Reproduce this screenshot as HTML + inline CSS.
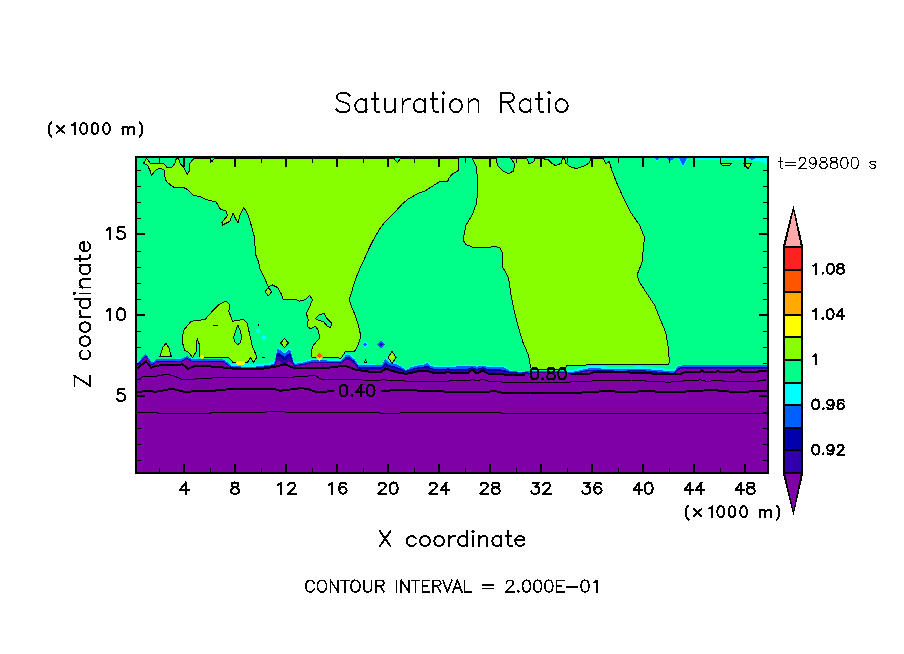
<!DOCTYPE html>
<html><head><meta charset="utf-8"><title>Saturation Ratio</title>
<style>
html,body{margin:0;padding:0;background:#fff;}
svg{display:block;font-family:"Liberation Sans",sans-serif;}
text{fill:#000;}
</style></head><body>
<svg width="904" height="654" viewBox="0 0 904 654">
<rect width="904" height="654" fill="#fff"/>
<g shape-rendering="crispEdges"><rect x="136" y="157" width="632" height="316" fill="#00ff88"/>
<polygon points="146.5,158.0 150.3,163.2 163.0,163.2 165.8,165.6 166.8,167.4 171.6,167.4 174.7,163.7 176.5,158.0 178.3,158.0 180.5,164.2 183.1,166.4 187.1,174.3 189.3,171.2 189.3,164.2 191.5,161.0 194.6,158.0 210.1,158.0 212.0,161.5 214.6,158.0 393.5,158.0 397.5,162.5 401.0,158.0 458.7,158.0 458.7,170.3 452.5,173.8 449.1,177.9 447.7,181.3 439.4,181.7 432.6,186.1 425.0,191.0 418.8,193.0 407.8,199.2 402.3,204.0 394.0,213.0 384.4,222.6 378.9,230.2 374.8,237.1 372.0,242.6 368.6,249.4 365.5,256.4 359.5,269.5 356.0,278.0 353.7,285.0 352.0,291.0 349.3,299.6 351.7,306.9 354.7,314.1 358.3,325.0 360.8,335.9 358.3,344.7 354.7,351.2 345.2,351.9 340.9,358.5 337.9,357.7 311.5,357.0 311.5,351.2 313.2,345.4 319.8,338.1 318.3,330.1 315.4,326.5 310.3,328.7 307.4,326.5 308.2,319.2 306.3,313.4 309.6,306.9 312.5,299.6 309.6,295.3 305.3,299.6 299.4,301.1 295.0,299.2 287.5,299.2 283.2,300.0 281.2,293.8 277.5,287.5 272.5,285.0 268.2,286.8 263.8,276.2 260.0,268.8 258.8,262.5 255.8,255.0 254.2,236.2 251.2,225.0 247.5,213.8 243.8,207.5 240.0,215.0 238.0,223.0 235.0,217.5 233.0,213.0 230.0,221.2 222.5,225.0 222.0,222.5 227.5,215.5 226.2,211.2 220.0,208.8 216.2,202.0 206.6,199.6 200.4,196.9 193.3,195.1 188.0,189.8 183.6,187.6 173.8,187.2 171.6,185.8 166.8,181.9 165.4,179.4 164.0,169.8 160.6,168.4 156.5,169.4 151.3,175.3 150.3,171.2 147.5,165.3 143.7,163.2" fill="#88ff00" stroke="#000" stroke-width="1" stroke-linejoin="round"/>
<polygon points="472.2,158.0 496.3,158.0 497.3,165.0 502.1,170.4 508.3,173.9 513.6,170.9 514.5,164.2 511.9,159.7 510.0,158.0 526.4,158.0 529.2,163.8 534.0,161.5 534.5,158.0 544.0,158.0 544.6,159.7 548.1,159.7 550.8,162.4 555.2,165.6 561.4,163.3 562.3,158.0 564.6,158.0 565.8,163.3 570.3,166.8 576.5,168.6 584.4,165.9 588.8,163.3 591.2,158.0 603.0,158.0 605.7,163.8 609.2,161.5 611.9,170.4 616.3,181.9 623.2,197.5 630.8,212.5 639.5,225.0 644.5,237.5 643.2,250.0 642.0,262.5 637.5,273.8 638.2,280.0 644.5,290.0 654.5,305.0 659.5,317.5 665.8,332.5 668.2,347.5 669.5,362.5 668.2,364.5 600.0,364.6 566.3,365.6 565.5,369.9 531.5,369.4 530.4,366.0 528.5,355.0 523.0,342.5 519.8,332.5 514.0,310.0 511.0,295.0 508.5,277.5 502.2,266.2 503.0,253.8 499.8,248.0 494.8,246.2 491.0,247.0 472.2,247.0 466.0,244.5 463.0,240.0 466.0,225.0 472.2,215.0 476.8,202.5 477.8,180.0 476.0,166.2" fill="#88ff00" stroke="#000" stroke-width="1" stroke-linejoin="round"/>
<polygon points="182.5,336.2 183.8,330.0 191.2,321.2 205.0,319.5 210.0,313.8 218.8,304.5 226.2,301.2 230.0,305.0 228.8,311.2 232.5,321.2 243.8,319.5 247.5,323.8 248.4,328.8 252.7,347.5 257.0,356.9 253.4,362.6 250.5,357.6 247.7,361.9 244.8,363.0 233.2,362.7 228.8,357.6 204.1,357.6 199.7,356.9 199.4,344.5 197.1,338.7 196.1,351.8 192.5,357.6 188.1,351.8 184.5,350.3 183.0,344.5" fill="#88ff00" stroke="#000" stroke-width="1" stroke-linejoin="round"/>
<polygon points="238.0,325.0 240.3,331.0 241.8,337.5 240.3,342.5 237.7,344.8 235.2,342.5 233.6,337.5 235.5,331.0" fill="#00ff88" stroke="#000" stroke-width="1" stroke-linejoin="round"/>
<polygon points="159.8,356.9 162.5,348.0 165.9,343.4 169.0,348.0 171.4,356.9" fill="#88ff00" stroke="#000" stroke-width="1" stroke-linejoin="round"/>
<polygon points="315.4,318.5 319.1,314.9 324.1,313.4 327.0,318.5 331.4,322.9 330.7,327.9 327.0,325.8 323.4,321.4 319.1,320.7" fill="#00ff88" stroke="#000" stroke-width="1" stroke-linejoin="round"/>
<polygon points="268.2,287.5 271.8,291.8 268.2,295.8 265.0,291.8" fill="#88ff00" stroke="#000" stroke-width="1" stroke-linejoin="round"/>
<polygon points="284.5,338.5 288.3,343.0 284.5,347.5 280.7,343.0" fill="#88ff00" stroke="#000" stroke-width="1" stroke-linejoin="round"/>
<line x1="212.5" y1="325" x2="217.5" y2="325" stroke="#000"/>
<rect x="258" y="324" width="1" height="2" fill="#000"/>
<polygon points="255.55,331.25 258.25,328.55 260.95,331.25 258.25,333.95" fill="#00ffff"/>
<polygon points="260.55,337.5 263.75,334.3 266.95,337.5 263.75,340.7" fill="#00ffff"/>
<polygon points="363.6,363.2 365.5,358.6 367.4,363.2" fill="#000"/>
<rect x="365" y="360.6" width="1" height="1.6" fill="#88ff00"/>
<line x1="262" y1="357.5" x2="264.5" y2="357.5" stroke="#000"/>
<polygon points="361.7,344.7 365.3,341.09999999999997 368.90000000000003,344.7 365.3,348.3" fill="#00ffff"/>
<polygon points="363.3,344.7 365.3,342.7 367.3,344.7 365.3,346.7" fill="#0060ff"/>
<polygon points="377.1,344.7 381.1,340.7 385.1,344.7 381.1,348.7" fill="#0060ff"/>
<polygon points="378.90000000000003,344.7 381.1,342.5 383.3,344.7 381.1,346.9" fill="#3000a8"/>
<polygon points="695,158 767,158 767,164 758,161 748,160 695,159.5" fill="#00ffff"/>
<polygon points="748,158 756,158 752,160" fill="#0060ff"/>
<polygon points="653,158 661,158 657.0,161.2" fill="#00ffff"/>
<polygon points="665.5,158 675.5,158 670.5,162" fill="#00ffff"/>
<polygon points="677.5,158 688.5,158 683.0,167" fill="#00ffff"/>
<polygon points="654,158 660,158 657.0,160.5" fill="#0060ff"/>
<polygon points="666.5,158 674.5,158 670.5,161.3" fill="#0060ff"/>
<polygon points="679,158 687,158 683.0,165.5" fill="#0060ff"/>
<polygon points="720.5,163.6 731.4,163.6 729,165.6 723,165.6" fill="#88ff00" stroke="#000" stroke-width="1" stroke-linejoin="round"/>
<polygon points="743.8,163.6 751.5,163.6 748,168.6" fill="#88ff00" stroke="#000" stroke-width="1" stroke-linejoin="round"/>
<polygon points="137.0,362.7 138.0,361.7 139.0,360.7 140.0,359.6 141.0,358.6 142.0,357.6 143.0,356.6 144.0,355.5 145.0,354.5 146.0,353.5 147.0,355.1 148.0,356.7 149.0,358.3 150.0,359.8 151.0,361.4 152.0,362.5 153.0,361.7 154.0,360.9 155.0,360.0 156.0,359.2 157.0,359.0 158.0,359.0 159.0,358.9 160.0,358.9 161.0,358.9 162.0,358.8 163.0,358.8 164.0,358.8 165.0,358.8 166.0,358.7 167.0,358.7 168.0,358.7 169.0,358.7 170.0,358.6 171.0,358.6 172.0,358.6 173.0,358.5 174.0,358.5 175.0,358.5 176.0,358.5 177.0,358.4 178.0,358.4 179.0,358.4 180.0,358.4 181.0,358.3 182.0,358.3 183.0,357.9 184.0,357.2 185.0,356.6 186.0,355.9 187.0,355.7 188.0,356.3 189.0,357.0 190.0,357.6 191.0,358.3 192.0,358.3 193.0,358.3 194.0,358.4 195.0,358.4 196.0,358.4 197.0,358.4 198.0,358.5 199.0,358.5 200.0,358.5 201.0,358.5 202.0,358.5 203.0,358.6 204.0,358.6 205.0,358.6 206.0,358.6 207.0,358.6 208.0,358.7 209.0,358.7 210.0,358.7 211.0,358.7 212.0,358.8 213.0,358.8 214.0,358.8 215.0,358.8 216.0,358.8 217.0,358.9 218.0,358.9 219.0,358.9 220.0,358.9 221.0,359.0 222.0,359.0 223.0,359.0 224.0,359.6 225.0,360.2 226.0,360.8 227.0,361.3 228.0,361.9 229.0,362.5 230.0,363.1 231.0,363.7 232.0,364.1 233.0,364.1 234.0,364.1 235.0,364.2 236.0,364.2 237.0,364.2 238.0,364.2 239.0,364.2 240.0,364.2 241.0,364.3 242.0,364.3 243.0,364.3 244.0,364.3 245.0,364.3 246.0,364.3 247.0,364.4 248.0,364.4 249.0,364.4 250.0,364.4 251.0,364.4 252.0,364.4 253.0,364.5 254.0,364.5 255.0,364.5 256.0,364.4 257.0,364.2 258.0,364.1 259.0,364.0 260.0,363.8 261.0,363.7 262.0,363.6 263.0,363.4 264.0,363.3 265.0,363.2 266.0,363.0 267.0,362.9 268.0,362.8 269.0,362.6 270.0,362.5 271.0,362.3 272.0,362.1 273.0,361.8 274.0,361.6 275.0,359.0 276.0,354.0 277.0,347.9 278.0,347.5 279.0,347.7 280.0,348.6 281.0,349.4 282.0,350.1 283.0,350.9 284.0,351.6 285.0,351.5 286.0,350.6 287.0,349.7 288.0,348.8 289.0,348.5 290.0,348.4 291.0,350.5 292.0,354.3 293.0,358.5 294.0,360.9 295.0,362.2 296.0,362.1 297.0,361.9 298.0,361.7 299.0,361.6 300.0,361.4 301.0,361.3 302.0,361.1 303.0,360.9 304.0,360.8 305.0,360.6 306.0,360.3 307.0,360.0 308.0,359.7 309.0,359.4 310.0,359.1 311.0,358.8 312.0,358.5 313.0,358.5 314.0,358.5 315.0,358.6 316.0,358.6 317.0,358.6 318.0,358.6 319.0,358.7 320.0,358.7 321.0,358.7 322.0,358.7 323.0,358.8 324.0,358.8 325.0,358.8 326.0,358.8 327.0,358.9 328.0,358.9 329.0,358.9 330.0,358.9 331.0,359.0 332.0,359.0 333.0,359.0 334.0,359.0 335.0,359.1 336.0,359.1 337.0,359.1 338.0,359.1 339.0,359.2 340.0,359.2 341.0,359.2 342.0,358.0 343.0,356.9 344.0,355.7 345.0,354.6 346.0,353.4 347.0,353.5 348.0,353.7 349.0,353.9 350.0,354.0 351.0,355.0 352.0,355.9 353.0,356.9 354.0,357.8 355.0,359.0 356.0,360.6 357.0,362.2 358.0,363.8 359.0,364.3 360.0,364.3 361.0,364.3 362.0,364.3 363.0,364.3 364.0,364.3 365.0,364.4 366.0,364.4 367.0,364.4 368.0,364.4 369.0,364.4 370.0,364.4 371.0,364.4 372.0,364.4 373.0,364.4 374.0,364.4 375.0,364.4 376.0,364.5 377.0,364.5 378.0,364.5 379.0,364.5 380.0,364.5 381.0,364.5 382.0,363.5 383.0,361.5 384.0,359.5 385.0,357.5 386.0,356.4 387.0,358.6 388.0,360.9 389.0,361.1 390.0,361.3 391.0,361.4 392.0,361.6 393.0,361.8 394.0,362.0 395.0,362.1 396.0,362.4 397.0,362.9 398.0,363.4 399.0,363.9 400.0,364.4 401.0,365.2 402.0,366.1 403.0,366.9 404.0,367.8 405.0,368.6 406.0,369.5 407.0,368.8 408.0,368.1 409.0,367.3 410.0,366.6 411.0,365.9 412.0,365.7 413.0,365.5 414.0,365.3 415.0,365.0 416.0,364.8 417.0,364.6 418.0,364.4 419.0,364.2 420.0,364.0 421.0,363.8 422.0,363.6 423.0,363.3 424.0,363.1 425.0,362.7 426.0,361.9 427.0,361.4 428.0,362.2 429.0,363.0 430.0,363.8 431.0,364.6 432.0,365.2 433.0,365.2 434.0,365.3 435.0,365.3 436.0,365.4 437.0,365.4 438.0,365.4 439.0,365.5 440.0,365.5 441.0,365.5 442.0,365.6 443.0,365.6 444.0,365.7 445.0,365.7 446.0,365.7 447.0,365.8 448.0,365.8 449.0,365.8 450.0,365.9 451.0,365.8 452.0,365.7 453.0,365.5 454.0,365.3 455.0,365.2 456.0,365.0 457.0,364.9 458.0,364.7 459.0,364.5 460.0,364.5 461.0,364.6 462.0,364.7 463.0,364.7 464.0,364.8 465.0,364.9 466.0,364.9 467.0,365.0 468.0,365.0 469.0,365.1 470.0,365.2 471.0,365.2 472.0,365.2 473.0,365.2 474.0,365.2 475.0,365.2 476.0,365.2 477.0,365.2 478.0,365.2 479.0,365.2 480.0,365.2 481.0,365.2 482.0,365.2 483.0,365.2 484.0,365.2 485.0,365.2 486.0,365.2 487.0,365.3 488.0,365.3 489.0,365.4 490.0,365.4 491.0,365.5 492.0,365.5 493.0,365.6 494.0,365.6 495.0,365.7 496.0,365.7 497.0,365.8 498.0,365.8 499.0,365.9 500.0,365.9 501.0,365.9 502.0,365.9 503.0,365.9 504.0,365.9 505.0,366.4 506.0,367.1 507.0,367.9 508.0,368.6 509.0,369.4 510.0,370.1 511.0,370.3 512.0,370.4 513.0,370.5 514.0,370.6 515.0,370.7 516.0,370.7 517.0,370.8 518.0,370.9 519.0,371.0 520.0,371.0 521.0,370.9 522.0,370.9 523.0,370.9 524.0,370.9 525.0,370.8 526.0,370.8 527.0,370.8 528.0,370.8 529.0,370.7 530.0,370.7 531.0,370.7 532.0,370.7 533.0,370.7 534.0,370.7 535.0,370.7 536.0,370.7 537.0,370.7 538.0,370.7 539.0,370.7 540.0,370.7 541.0,370.7 542.0,370.7 543.0,370.7 544.0,370.7 545.0,370.7 546.0,370.7 547.0,370.7 548.0,370.7 549.0,370.7 550.0,370.7 551.0,370.7 552.0,370.7 553.0,370.7 554.0,370.7 555.0,370.7 556.0,370.7 557.0,370.7 558.0,370.7 559.0,370.7 560.0,370.7 561.0,370.7 562.0,370.7 563.0,370.7 564.0,370.7 565.0,370.7 566.0,370.7 567.0,370.6 568.0,370.5 569.0,370.4 570.0,370.3 571.0,370.1 572.0,369.9 573.0,369.7 574.0,369.5 575.0,369.2 576.0,369.0 577.0,368.8 578.0,368.6 579.0,368.4 580.0,368.2 581.0,368.0 582.0,367.8 583.0,367.5 584.0,367.3 585.0,367.1 586.0,366.9 587.0,366.7 588.0,366.5 589.0,366.3 590.0,366.0 591.0,365.9 592.0,365.9 593.0,366.0 594.0,366.0 595.0,366.1 596.0,366.1 597.0,366.1 598.0,366.2 599.0,366.2 600.0,366.2 601.0,366.3 602.0,366.3 603.0,366.4 604.0,366.4 605.0,366.4 606.0,366.5 607.0,366.5 608.0,366.5 609.0,366.6 610.0,366.6 611.0,366.7 612.0,366.7 613.0,366.7 614.0,366.8 615.0,366.8 616.0,366.8 617.0,366.9 618.0,366.9 619.0,367.0 620.0,367.0 621.0,367.0 622.0,366.9 623.0,366.9 624.0,366.9 625.0,366.8 626.0,366.8 627.0,366.8 628.0,366.7 629.0,366.7 630.0,366.6 631.0,366.6 632.0,366.6 633.0,366.5 634.0,366.5 635.0,366.5 636.0,366.4 637.0,366.4 638.0,366.4 639.0,366.3 640.0,366.3 641.0,366.4 642.0,366.5 643.0,366.6 644.0,366.6 645.0,366.7 646.0,366.8 647.0,366.9 648.0,367.0 649.0,367.1 650.0,367.2 651.0,367.3 652.0,367.3 653.0,367.4 654.0,367.5 655.0,367.6 656.0,367.7 657.0,367.8 658.0,367.9 659.0,367.9 660.0,368.0 661.0,368.1 662.0,368.2 663.0,368.3 664.0,368.4 665.0,368.5 666.0,368.6 667.0,368.6 668.0,368.7 669.0,368.8 670.0,368.9 671.0,369.0 672.0,369.1 673.0,369.2 674.0,369.3 675.0,368.8 676.0,367.7 677.0,366.6 678.0,365.5 679.0,365.3 680.0,365.1 681.0,364.9 682.0,364.7 683.0,364.5 684.0,364.5 685.0,364.5 686.0,364.5 687.0,364.5 688.0,364.5 689.0,364.5 690.0,364.5 691.0,364.5 692.0,364.5 693.0,364.5 694.0,364.5 695.0,364.5 696.0,364.5 697.0,364.5 698.0,364.5 699.0,364.5 700.0,364.5 701.0,364.5 702.0,364.5 703.0,364.5 704.0,364.5 705.0,364.5 706.0,364.5 707.0,364.5 708.0,364.5 709.0,364.5 710.0,364.5 711.0,364.5 712.0,364.5 713.0,364.5 714.0,364.5 715.0,364.5 716.0,364.5 717.0,364.5 718.0,364.5 719.0,364.5 720.0,364.5 721.0,364.5 722.0,364.5 723.0,364.5 724.0,364.5 725.0,364.5 726.0,364.5 727.0,364.5 728.0,364.5 729.0,364.5 730.0,364.5 731.0,364.5 732.0,364.5 733.0,364.5 734.0,364.5 735.0,364.5 736.0,364.5 737.0,364.5 738.0,364.5 739.0,364.5 740.0,364.5 741.0,364.5 742.0,364.5 743.0,364.5 744.0,364.5 745.0,364.5 746.0,364.5 747.0,364.5 748.0,364.5 749.0,364.5 750.0,364.5 751.0,364.5 752.0,364.5 753.0,364.5 754.0,364.5 755.0,364.5 756.0,364.5 757.0,364.5 758.0,364.5 759.0,364.5 760.0,364.5 761.0,364.5 762.0,364.5 763.0,364.5 764.0,364.5 765.0,364.5 766.0,364.5 767.0,364.5 767.0,472.0 137.0,472.0" fill="#00ffff"/>
<polygon points="137.0,363.1 138.0,362.0 139.0,361.0 140.0,360.0 141.0,359.0 142.0,357.9 143.0,356.9 144.0,355.9 145.0,354.9 146.0,353.9 147.0,355.4 148.0,357.0 149.0,358.6 150.0,360.2 151.0,361.8 152.0,362.9 153.0,362.0 154.0,361.2 155.0,360.4 156.0,359.5 157.0,359.3 158.0,359.3 159.0,359.3 160.0,359.2 161.0,359.2 162.0,359.2 163.0,359.2 164.0,359.1 165.0,359.1 166.0,359.1 167.0,359.1 168.0,359.0 169.0,359.0 170.0,359.0 171.0,359.0 172.0,358.9 173.0,358.9 174.0,358.9 175.0,358.8 176.0,358.8 177.0,358.8 178.0,358.8 179.0,358.7 180.0,358.7 181.0,358.7 182.0,358.7 183.0,358.2 184.0,357.6 185.0,356.9 186.0,356.3 187.0,356.0 188.0,356.7 189.0,357.3 190.0,358.0 191.0,358.7 192.0,358.7 193.0,358.7 194.0,358.7 195.0,358.7 196.0,358.8 197.0,358.8 198.0,358.8 199.0,358.8 200.0,358.8 201.0,358.9 202.0,358.9 203.0,358.9 204.0,358.9 205.0,359.0 206.0,359.0 207.0,359.0 208.0,359.0 209.0,359.0 210.0,359.1 211.0,359.1 212.0,359.1 213.0,359.1 214.0,359.2 215.0,359.2 216.0,359.2 217.0,359.2 218.0,359.2 219.0,359.3 220.0,359.3 221.0,359.3 222.0,359.3 223.0,359.4 224.0,359.9 225.0,360.5 226.0,361.1 227.0,362.0 228.0,362.9 229.0,363.8 230.0,364.7 231.0,365.6 232.0,366.3 233.0,366.3 234.0,366.3 235.0,366.4 236.0,366.4 237.0,366.4 238.0,366.4 239.0,366.4 240.0,366.4 241.0,366.5 242.0,366.5 243.0,366.5 244.0,366.5 245.0,366.5 246.0,366.5 247.0,366.6 248.0,366.6 249.0,366.6 250.0,366.6 251.0,366.6 252.0,366.6 253.0,366.7 254.0,366.7 255.0,366.7 256.0,366.6 257.0,366.4 258.0,366.3 259.0,366.2 260.0,366.0 261.0,365.9 262.0,365.8 263.0,365.6 264.0,365.5 265.0,365.4 266.0,365.2 267.0,365.1 268.0,365.0 269.0,364.8 270.0,364.7 271.0,364.5 272.0,364.3 273.0,363.9 274.0,363.6 275.0,360.9 276.0,355.7 277.0,349.5 278.0,349.0 279.0,349.2 280.0,350.1 281.0,350.9 282.0,351.6 283.0,352.4 284.0,353.1 285.0,353.0 286.0,352.1 287.0,351.2 288.0,350.3 289.0,350.0 290.0,349.9 291.0,352.0 292.0,356.1 293.0,360.4 294.0,362.8 295.0,364.0 296.0,363.7 297.0,363.5 298.0,363.3 299.0,363.2 300.0,363.0 301.0,362.9 302.0,362.7 303.0,362.5 304.0,362.4 305.0,362.2 306.0,361.9 307.0,361.6 308.0,361.3 309.0,361.0 310.0,360.7 311.0,360.4 312.0,360.1 313.0,360.1 314.0,360.1 315.0,360.2 316.0,360.2 317.0,360.2 318.0,360.2 319.0,360.3 320.0,360.3 321.0,360.3 322.0,360.3 323.0,360.4 324.0,360.4 325.0,360.4 326.0,360.4 327.0,360.5 328.0,360.5 329.0,360.5 330.0,360.5 331.0,360.6 332.0,360.6 333.0,360.6 334.0,360.6 335.0,360.7 336.0,360.7 337.0,360.7 338.0,360.7 339.0,360.8 340.0,360.8 341.0,360.8 342.0,359.6 343.0,358.4 344.0,357.2 345.0,356.1 346.0,354.9 347.0,355.0 348.0,355.2 349.0,355.4 350.0,355.5 351.0,356.5 352.0,357.3 353.0,358.1 354.0,359.0 355.0,360.0 356.0,361.5 357.0,363.0 358.0,364.6 359.0,365.1 360.0,365.1 361.0,365.1 362.0,365.1 363.0,365.1 364.0,365.1 365.0,365.2 366.0,365.2 367.0,365.2 368.0,365.2 369.0,365.2 370.0,365.2 371.0,365.2 372.0,365.2 373.0,365.2 374.0,365.2 375.0,365.2 376.0,365.3 377.0,365.3 378.0,365.3 379.0,365.3 380.0,365.3 381.0,365.3 382.0,364.3 383.0,363.1 384.0,361.4 385.0,359.6 386.0,358.6 387.0,360.5 388.0,362.4 389.0,362.6 390.0,362.9 391.0,363.1 392.0,363.3 393.0,363.5 394.0,363.7 395.0,363.9 396.0,364.1 397.0,364.5 398.0,365.0 399.0,365.5 400.0,365.9 401.0,366.6 402.0,367.3 403.0,368.0 404.0,368.7 405.0,369.5 406.0,370.2 407.0,369.6 408.0,369.0 409.0,368.3 410.0,367.7 411.0,367.1 412.0,366.9 413.0,366.7 414.0,366.5 415.0,366.2 416.0,366.0 417.0,365.8 418.0,365.6 419.0,365.4 420.0,365.2 421.0,365.0 422.0,364.9 423.0,364.7 424.0,364.5 425.0,364.2 426.0,363.5 427.0,363.1 428.0,363.8 429.0,364.5 430.0,365.2 431.0,365.9 432.0,366.4 433.0,366.5 434.0,366.6 435.0,366.6 436.0,366.6 437.0,366.7 438.0,366.7 439.0,366.7 440.0,366.8 441.0,366.8 442.0,366.8 443.0,366.9 444.0,366.9 445.0,366.9 446.0,366.9 447.0,366.9 448.0,366.8 449.0,366.9 450.0,367.0 451.0,367.1 452.0,367.0 453.0,366.9 454.0,366.8 455.0,366.6 456.0,366.5 457.0,366.4 458.0,366.2 459.0,366.1 460.0,366.1 461.0,366.2 462.0,366.2 463.0,366.2 464.0,366.3 465.0,366.3 466.0,366.4 467.0,366.4 468.0,366.4 469.0,366.3 470.0,366.2 471.0,366.1 472.0,365.9 473.0,366.0 474.0,366.2 475.0,366.4 476.0,366.6 477.0,366.6 478.0,366.5 479.0,366.4 480.0,366.3 481.0,366.2 482.0,366.1 483.0,366.0 484.0,366.2 485.0,366.3 486.0,366.5 487.0,366.7 488.0,366.8 489.0,366.8 490.0,366.9 491.0,366.9 492.0,367.0 493.0,367.0 494.0,367.0 495.0,367.1 496.0,367.1 497.0,367.2 498.0,367.2 499.0,367.3 500.0,367.3 501.0,367.3 502.0,367.4 503.0,367.4 504.0,367.4 505.0,367.8 506.0,368.5 507.0,369.1 508.0,369.7 509.0,370.3 510.0,370.9 511.0,371.0 512.0,371.1 513.0,371.2 514.0,371.2 515.0,371.3 516.0,371.4 517.0,371.5 518.0,371.5 519.0,371.6 520.0,371.6 521.0,371.6 522.0,371.5 523.0,371.5 524.0,371.5 525.0,371.5 526.0,371.4 527.0,371.4 528.0,371.4 529.0,371.4 530.0,371.2 531.0,371.0 532.0,371.0 533.0,371.0 534.0,371.0 535.0,371.0 536.0,371.0 537.0,371.0 538.0,371.0 539.0,371.0 540.0,371.0 541.0,371.0 542.0,371.0 543.0,371.0 544.0,371.0 545.0,371.0 546.0,371.0 547.0,371.0 548.0,371.0 549.0,371.0 550.0,371.0 551.0,371.0 552.0,371.0 553.0,371.0 554.0,371.0 555.0,371.0 556.0,371.0 557.0,371.0 558.0,371.0 559.0,371.0 560.0,371.0 561.0,371.0 562.0,371.0 563.0,371.0 564.0,371.0 565.0,371.0 566.0,371.0 567.0,371.4 568.0,371.7 569.0,372.0 570.0,372.3 571.0,372.1 572.0,371.9 573.0,371.7 574.0,371.5 575.0,371.3 576.0,371.1 577.0,370.9 578.0,370.7 579.0,370.5 580.0,370.2 581.0,370.0 582.0,369.8 583.0,369.6 584.0,369.4 585.0,369.2 586.0,369.0 587.0,368.8 588.0,368.6 589.0,368.4 590.0,368.2 591.0,368.1 592.0,368.1 593.0,368.1 594.0,368.2 595.0,368.2 596.0,368.3 597.0,368.3 598.0,368.4 599.0,368.4 600.0,368.4 601.0,368.5 602.0,368.5 603.0,368.6 604.0,368.6 605.0,368.6 606.0,368.7 607.0,368.7 608.0,368.7 609.0,368.8 610.0,368.8 611.0,368.9 612.0,368.9 613.0,368.9 614.0,369.0 615.0,369.0 616.0,369.0 617.0,369.1 618.0,369.1 619.0,369.2 620.0,369.2 621.0,369.2 622.0,369.1 623.0,369.1 624.0,369.1 625.0,369.0 626.0,369.0 627.0,369.0 628.0,368.9 629.0,368.9 630.0,368.8 631.0,368.8 632.0,368.8 633.0,368.7 634.0,368.7 635.0,368.7 636.0,368.6 637.0,368.6 638.0,368.6 639.0,368.5 640.0,368.5 641.0,368.6 642.0,368.7 643.0,368.8 644.0,368.8 645.0,368.9 646.0,369.0 647.0,369.1 648.0,369.2 649.0,369.3 650.0,369.4 651.0,369.5 652.0,369.5 653.0,369.6 654.0,369.7 655.0,369.8 656.0,369.9 657.0,370.0 658.0,370.1 659.0,370.1 660.0,370.2 661.0,370.3 662.0,370.4 663.0,370.5 664.0,370.6 665.0,370.7 666.0,370.8 667.0,370.8 668.0,370.9 669.0,371.0 670.0,371.1 671.0,371.1 672.0,371.0 673.0,370.9 674.0,370.9 675.0,370.3 676.0,369.0 677.0,367.8 678.0,366.6 679.0,366.2 680.0,365.9 681.0,365.7 682.0,365.5 683.0,365.3 684.0,365.3 685.0,365.3 686.0,365.3 687.0,365.3 688.0,365.3 689.0,365.3 690.0,365.3 691.0,365.3 692.0,365.3 693.0,365.3 694.0,365.3 695.0,365.3 696.0,365.3 697.0,365.3 698.0,365.3 699.0,365.3 700.0,365.3 701.0,365.3 702.0,365.3 703.0,365.3 704.0,365.3 705.0,365.3 706.0,365.3 707.0,365.3 708.0,365.3 709.0,365.3 710.0,365.3 711.0,365.3 712.0,365.3 713.0,365.3 714.0,365.3 715.0,365.3 716.0,365.3 717.0,365.3 718.0,365.3 719.0,365.3 720.0,365.3 721.0,365.3 722.0,365.3 723.0,365.3 724.0,365.3 725.0,365.3 726.0,365.3 727.0,365.3 728.0,365.3 729.0,365.3 730.0,365.3 731.0,365.3 732.0,365.3 733.0,365.3 734.0,365.3 735.0,365.3 736.0,365.3 737.0,365.3 738.0,365.3 739.0,365.3 740.0,365.3 741.0,365.3 742.0,365.3 743.0,365.3 744.0,365.3 745.0,365.3 746.0,365.3 747.0,365.3 748.0,365.3 749.0,365.3 750.0,365.3 751.0,365.3 752.0,365.3 753.0,365.3 754.0,365.3 755.0,365.3 756.0,365.3 757.0,365.3 758.0,365.3 759.0,365.3 760.0,365.3 761.0,365.3 762.0,365.3 763.0,365.3 764.0,365.3 765.0,365.3 766.0,365.3 767.0,365.3 767.0,472.0 137.0,472.0" fill="#0060ff"/>
<polygon points="137.0,364.9 138.0,363.9 139.0,362.9 140.0,361.8 141.0,360.8 142.0,359.8 143.0,358.8 144.0,357.7 145.0,356.7 146.0,355.7 147.0,357.3 148.0,358.9 149.0,360.5 150.0,362.0 151.0,363.6 152.0,364.7 153.0,363.9 154.0,363.1 155.0,362.2 156.0,361.4 157.0,361.2 158.0,361.2 159.0,361.1 160.0,361.1 161.0,361.1 162.0,361.0 163.0,361.0 164.0,361.0 165.0,361.0 166.0,360.9 167.0,360.9 168.0,360.9 169.0,360.9 170.0,360.8 171.0,360.8 172.0,360.8 173.0,360.7 174.0,360.7 175.0,360.7 176.0,360.7 177.0,360.6 178.0,360.6 179.0,360.6 180.0,360.6 181.0,360.5 182.0,360.5 183.0,360.1 184.0,359.4 185.0,358.8 186.0,358.1 187.0,357.9 188.0,358.5 189.0,359.2 190.0,359.8 191.0,360.5 192.0,360.5 193.0,360.5 194.0,360.6 195.0,360.6 196.0,360.6 197.0,360.6 198.0,360.7 199.0,360.7 200.0,360.7 201.0,360.7 202.0,360.7 203.0,360.8 204.0,360.8 205.0,360.8 206.0,360.8 207.0,360.8 208.0,360.9 209.0,360.9 210.0,360.9 211.0,360.9 212.0,361.0 213.0,361.0 214.0,361.0 215.0,361.0 216.0,361.0 217.0,361.1 218.0,361.1 219.0,361.1 220.0,361.1 221.0,361.2 222.0,361.2 223.0,361.2 224.0,361.8 225.0,362.4 226.0,363.0 227.0,363.7 228.0,364.5 229.0,365.2 230.0,366.0 231.0,366.7 232.0,367.3 233.0,367.3 234.0,367.3 235.0,367.4 236.0,367.4 237.0,367.4 238.0,367.4 239.0,367.4 240.0,367.4 241.0,367.5 242.0,367.5 243.0,367.5 244.0,367.5 245.0,367.5 246.0,367.5 247.0,367.6 248.0,367.6 249.0,367.6 250.0,367.6 251.0,367.6 252.0,367.6 253.0,367.7 254.0,367.7 255.0,367.7 256.0,367.6 257.0,367.4 258.0,367.3 259.0,367.2 260.0,367.0 261.0,366.9 262.0,366.8 263.0,366.6 264.0,366.5 265.0,366.4 266.0,366.2 267.0,366.1 268.0,366.0 269.0,365.8 270.0,365.7 271.0,365.5 272.0,365.3 273.0,365.2 274.0,365.1 275.0,362.9 276.0,358.4 277.0,352.7 278.0,352.5 279.0,352.7 280.0,353.6 281.0,354.4 282.0,355.1 283.0,355.9 284.0,356.6 285.0,356.5 286.0,355.6 287.0,354.7 288.0,353.8 289.0,353.5 290.0,353.4 291.0,355.2 292.0,358.6 293.0,362.2 294.0,364.3 295.0,365.4 296.0,365.1 297.0,364.9 298.0,364.7 299.0,364.6 300.0,364.4 301.0,364.3 302.0,364.1 303.0,363.9 304.0,363.8 305.0,363.6 306.0,363.3 307.0,363.0 308.0,362.7 309.0,362.4 310.0,362.1 311.0,361.8 312.0,361.5 313.0,361.5 314.0,361.5 315.0,361.6 316.0,361.6 317.0,361.6 318.0,361.6 319.0,361.7 320.0,361.7 321.0,361.7 322.0,361.7 323.0,361.8 324.0,361.8 325.0,361.8 326.0,361.8 327.0,361.9 328.0,361.9 329.0,361.9 330.0,361.9 331.0,362.0 332.0,362.0 333.0,362.0 334.0,362.0 335.0,362.1 336.0,362.1 337.0,362.1 338.0,362.1 339.0,362.2 340.0,362.2 341.0,362.2 342.0,361.2 343.0,360.1 344.0,359.1 345.0,358.1 346.0,356.9 347.0,357.0 348.0,357.2 349.0,357.4 350.0,357.5 351.0,358.5 352.0,359.2 353.0,360.0 354.0,360.8 355.0,361.8 356.0,363.3 357.0,364.7 358.0,366.3 359.0,366.8 360.0,366.8 361.0,366.8 362.0,366.8 363.0,366.8 364.0,366.8 365.0,366.9 366.0,366.9 367.0,366.9 368.0,366.9 369.0,366.9 370.0,366.9 371.0,366.9 372.0,366.9 373.0,366.9 374.0,366.9 375.0,366.9 376.0,367.0 377.0,367.0 378.0,367.0 379.0,367.0 380.0,367.0 381.0,367.0 382.0,366.0 383.0,365.6 384.0,364.2 385.0,362.8 386.0,362.0 387.0,363.3 388.0,364.7 389.0,365.0 390.0,365.3 391.0,365.5 392.0,365.7 393.0,366.0 394.0,366.2 395.0,366.4 396.0,366.7 397.0,367.1 398.0,367.5 399.0,367.9 400.0,368.2 401.0,368.7 402.0,369.2 403.0,369.7 404.0,370.2 405.0,370.7 406.0,371.2 407.0,370.7 408.0,370.3 409.0,369.8 410.0,369.4 411.0,368.9 412.0,368.7 413.0,368.5 414.0,368.3 415.0,368.0 416.0,367.8 417.0,367.6 418.0,367.4 419.0,367.1 420.0,367.0 421.0,366.9 422.0,366.8 423.0,366.7 424.0,366.6 425.0,366.4 426.0,366.0 427.0,365.7 428.0,366.2 429.0,366.7 430.0,367.3 431.0,367.8 432.0,368.3 433.0,368.5 434.0,368.5 435.0,368.6 436.0,368.6 437.0,368.6 438.0,368.6 439.0,368.6 440.0,368.7 441.0,368.7 442.0,368.7 443.0,368.7 444.0,368.7 445.0,368.7 446.0,368.6 447.0,368.5 448.0,368.4 449.0,368.5 450.0,368.7 451.0,369.0 452.0,369.1 453.0,369.0 454.0,368.9 455.0,368.8 456.0,368.8 457.0,368.7 458.0,368.6 459.0,368.5 460.0,368.5 461.0,368.5 462.0,368.5 463.0,368.5 464.0,368.5 465.0,368.6 466.0,368.6 467.0,368.6 468.0,368.5 469.0,368.1 470.0,367.8 471.0,367.4 472.0,366.9 473.0,367.3 474.0,367.8 475.0,368.2 476.0,368.7 477.0,368.7 478.0,368.5 479.0,368.2 480.0,368.0 481.0,367.7 482.0,367.5 483.0,367.3 484.0,367.7 485.0,368.1 486.0,368.5 487.0,368.9 488.0,369.0 489.0,369.0 490.0,369.0 491.0,369.1 492.0,369.1 493.0,369.2 494.0,369.2 495.0,369.2 496.0,369.3 497.0,369.3 498.0,369.3 499.0,369.4 500.0,369.4 501.0,369.5 502.0,369.6 503.0,369.6 504.0,369.7 505.0,370.0 506.0,370.5 507.0,370.9 508.0,371.3 509.0,371.7 510.0,372.1 511.0,372.1 512.0,372.2 513.0,372.2 514.0,372.3 515.0,372.3 516.0,372.4 517.0,372.4 518.0,372.5 519.0,372.5 520.0,372.5 521.0,372.5 522.0,372.5 523.0,372.4 524.0,372.4 525.0,372.4 526.0,372.4 527.0,372.4 528.0,372.4 529.0,372.8 530.0,372.3 531.0,371.9 532.0,371.9 533.0,371.9 534.0,371.9 535.0,371.9 536.0,371.9 537.0,371.9 538.0,371.9 539.0,371.9 540.0,371.9 541.0,371.9 542.0,371.9 543.0,371.9 544.0,371.9 545.0,371.9 546.0,371.9 547.0,371.9 548.0,371.9 549.0,371.9 550.0,371.9 551.0,371.9 552.0,371.9 553.0,371.9 554.0,371.9 555.0,371.9 556.0,371.9 557.0,371.9 558.0,371.9 559.0,371.9 560.0,371.9 561.0,371.9 562.0,371.9 563.0,371.9 564.0,371.9 565.0,371.9 566.0,371.9 567.0,372.4 568.0,372.8 569.0,373.2 570.0,373.6 571.0,373.4 572.0,373.2 573.0,373.0 574.0,372.8 575.0,372.6 576.0,372.4 577.0,372.2 578.0,372.0 579.0,371.8 580.0,371.6 581.0,371.4 582.0,371.2 583.0,371.0 584.0,370.8 585.0,370.6 586.0,370.4 587.0,370.2 588.0,370.0 589.0,369.8 590.0,369.6 591.0,369.5 592.0,369.5 593.0,369.6 594.0,369.6 595.0,369.7 596.0,369.7 597.0,369.8 598.0,369.8 599.0,369.9 600.0,369.9 601.0,370.0 602.0,370.0 603.0,370.1 604.0,370.1 605.0,370.1 606.0,370.2 607.0,370.2 608.0,370.2 609.0,370.3 610.0,370.3 611.0,370.4 612.0,370.4 613.0,370.4 614.0,370.5 615.0,370.5 616.0,370.5 617.0,370.6 618.0,370.6 619.0,370.7 620.0,370.7 621.0,370.7 622.0,370.6 623.0,370.6 624.0,370.6 625.0,370.5 626.0,370.5 627.0,370.5 628.0,370.4 629.0,370.4 630.0,370.3 631.0,370.3 632.0,370.3 633.0,370.2 634.0,370.2 635.0,370.2 636.0,370.1 637.0,370.1 638.0,370.1 639.0,370.0 640.0,370.0 641.0,370.1 642.0,370.2 643.0,370.3 644.0,370.3 645.0,370.4 646.0,370.5 647.0,370.6 648.0,370.7 649.0,370.8 650.0,370.9 651.0,371.0 652.0,371.0 653.0,371.1 654.0,371.2 655.0,371.3 656.0,371.4 657.0,371.5 658.0,371.6 659.0,371.6 660.0,371.7 661.0,371.8 662.0,371.9 663.0,372.0 664.0,372.1 665.0,372.2 666.0,372.3 667.0,372.3 668.0,372.4 669.0,372.5 670.0,372.6 671.0,372.6 672.0,372.5 673.0,372.5 674.0,372.5 675.0,371.9 676.0,370.7 677.0,369.4 678.0,368.2 679.0,367.9 680.0,367.6 681.0,367.4 682.0,367.2 683.0,367.0 684.0,367.0 685.0,367.0 686.0,367.0 687.0,367.0 688.0,367.0 689.0,367.0 690.0,367.0 691.0,367.0 692.0,367.0 693.0,367.0 694.0,367.0 695.0,367.0 696.0,367.0 697.0,367.0 698.0,367.0 699.0,367.0 700.0,367.0 701.0,367.0 702.0,367.0 703.0,367.0 704.0,367.0 705.0,367.0 706.0,367.0 707.0,367.0 708.0,367.0 709.0,367.0 710.0,367.0 711.0,367.0 712.0,367.0 713.0,367.0 714.0,367.0 715.0,367.0 716.0,367.0 717.0,367.0 718.0,367.0 719.0,367.0 720.0,367.0 721.0,367.0 722.0,367.0 723.0,367.0 724.0,367.0 725.0,367.0 726.0,367.0 727.0,367.0 728.0,367.0 729.0,367.0 730.0,367.0 731.0,367.0 732.0,367.0 733.0,367.0 734.0,367.0 735.0,367.0 736.0,367.0 737.0,367.0 738.0,367.0 739.0,367.0 740.0,367.0 741.0,367.0 742.0,367.0 743.0,367.0 744.0,367.0 745.0,367.0 746.0,367.0 747.0,367.0 748.0,367.0 749.0,367.0 750.0,367.0 751.0,367.0 752.0,367.0 753.0,367.0 754.0,367.0 755.0,367.0 756.0,367.0 757.0,367.0 758.0,367.0 759.0,367.0 760.0,367.0 761.0,367.0 762.0,367.0 763.0,367.0 764.0,367.0 765.0,367.0 766.0,367.0 767.0,367.0 767.0,472.0 137.0,472.0" fill="#0000aa"/>
<polygon points="137.0,365.5 138.0,364.5 139.0,363.5 140.0,362.4 141.0,361.4 142.0,360.4 143.0,359.4 144.0,358.3 145.0,357.3 146.0,356.3 147.0,357.9 148.0,359.5 149.0,361.1 150.0,362.6 151.0,364.2 152.0,365.3 153.0,364.5 154.0,363.7 155.0,362.8 156.0,362.0 157.0,361.8 158.0,361.8 159.0,361.7 160.0,361.7 161.0,361.7 162.0,361.6 163.0,361.6 164.0,361.6 165.0,361.6 166.0,361.5 167.0,361.5 168.0,361.5 169.0,361.5 170.0,361.4 171.0,361.4 172.0,361.4 173.0,361.3 174.0,361.3 175.0,361.3 176.0,361.3 177.0,361.2 178.0,361.2 179.0,361.2 180.0,361.2 181.0,361.1 182.0,361.1 183.0,360.7 184.0,360.0 185.0,359.4 186.0,358.7 187.0,358.5 188.0,359.1 189.0,359.8 190.0,360.4 191.0,361.1 192.0,361.1 193.0,361.1 194.0,361.2 195.0,361.2 196.0,361.2 197.0,361.2 198.0,361.3 199.0,361.3 200.0,361.3 201.0,361.3 202.0,361.3 203.0,361.4 204.0,361.4 205.0,361.4 206.0,361.4 207.0,361.4 208.0,361.5 209.0,361.5 210.0,361.5 211.0,361.5 212.0,361.6 213.0,361.6 214.0,361.6 215.0,361.6 216.0,361.6 217.0,361.7 218.0,361.7 219.0,361.7 220.0,361.7 221.0,361.8 222.0,361.8 223.0,361.8 224.0,362.4 225.0,363.0 226.0,363.6 227.0,364.3 228.0,365.0 229.0,365.8 230.0,366.5 231.0,367.2 232.0,367.8 233.0,367.8 234.0,367.8 235.0,367.9 236.0,367.9 237.0,367.9 238.0,367.9 239.0,367.9 240.0,367.9 241.0,368.0 242.0,368.0 243.0,368.0 244.0,368.0 245.0,368.0 246.0,368.0 247.0,368.1 248.0,368.1 249.0,368.1 250.0,368.1 251.0,368.1 252.0,368.1 253.0,368.2 254.0,368.2 255.0,368.2 256.0,368.1 257.0,367.9 258.0,367.8 259.0,367.7 260.0,367.5 261.0,367.4 262.0,367.3 263.0,367.1 264.0,367.0 265.0,366.9 266.0,366.7 267.0,366.6 268.0,366.5 269.0,366.3 270.0,366.2 271.0,366.0 272.0,365.8 273.0,365.9 274.0,366.1 275.0,364.6 276.0,360.8 277.0,355.8 278.0,356.0 279.0,356.2 280.0,357.1 281.0,357.9 282.0,358.6 283.0,359.4 284.0,360.1 285.0,360.0 286.0,359.1 287.0,358.2 288.0,357.3 289.0,357.0 290.0,356.9 291.0,358.3 292.0,360.8 293.0,363.6 294.0,365.2 295.0,366.2 296.0,365.7 297.0,365.5 298.0,365.3 299.0,365.2 300.0,365.0 301.0,364.9 302.0,364.7 303.0,364.5 304.0,364.4 305.0,364.2 306.0,363.9 307.0,363.6 308.0,363.3 309.0,363.0 310.0,362.7 311.0,362.4 312.0,362.1 313.0,362.1 314.0,362.1 315.0,362.2 316.0,362.2 317.0,362.2 318.0,362.2 319.0,362.3 320.0,362.3 321.0,362.3 322.0,362.3 323.0,362.4 324.0,362.4 325.0,362.4 326.0,362.4 327.0,362.5 328.0,362.5 329.0,362.5 330.0,362.5 331.0,362.6 332.0,362.6 333.0,362.6 334.0,362.6 335.0,362.7 336.0,362.7 337.0,362.7 338.0,362.7 339.0,362.8 340.0,362.8 341.0,362.8 342.0,362.0 343.0,361.2 344.0,360.4 345.0,359.6 346.0,358.4 347.0,358.5 348.0,358.7 349.0,358.9 350.0,359.0 351.0,360.0 352.0,360.8 353.0,361.6 354.0,362.4 355.0,363.4 356.0,364.9 357.0,366.4 358.0,368.0 359.0,368.5 360.0,368.5 361.0,368.5 362.0,368.5 363.0,368.5 364.0,368.5 365.0,368.6 366.0,368.6 367.0,368.6 368.0,368.6 369.0,368.6 370.0,368.6 371.0,368.6 372.0,368.6 373.0,368.6 374.0,368.6 375.0,368.6 376.0,368.7 377.0,368.7 378.0,368.7 379.0,368.7 380.0,368.7 381.0,368.7 382.0,367.7 383.0,367.4 384.0,366.3 385.0,365.1 386.0,364.4 387.0,365.4 388.0,366.3 389.0,366.7 390.0,367.0 391.0,367.3 392.0,367.5 393.0,367.8 394.0,368.1 395.0,368.3 396.0,368.6 397.0,368.9 398.0,369.3 399.0,369.6 400.0,369.9 401.0,370.2 402.0,370.5 403.0,370.9 404.0,371.2 405.0,371.6 406.0,371.9 407.0,371.6 408.0,371.3 409.0,370.9 410.0,370.6 411.0,370.2 412.0,370.0 413.0,369.8 414.0,369.6 415.0,369.3 416.0,369.1 417.0,368.9 418.0,368.7 419.0,368.4 420.0,368.4 421.0,368.3 422.0,368.3 423.0,368.2 424.0,368.1 425.0,368.0 426.0,367.8 427.0,367.7 428.0,368.0 429.0,368.4 430.0,368.9 431.0,369.3 432.0,369.7 433.0,369.9 434.0,370.0 435.0,370.0 436.0,370.0 437.0,370.0 438.0,370.0 439.0,370.0 440.0,370.0 441.0,370.0 442.0,370.1 443.0,370.1 444.0,370.1 445.0,370.1 446.0,369.9 447.0,369.7 448.0,369.5 449.0,369.6 450.0,370.0 451.0,370.3 452.0,370.7 453.0,370.6 454.0,370.5 455.0,370.5 456.0,370.4 457.0,370.3 458.0,370.3 459.0,370.2 460.0,370.2 461.0,370.2 462.0,370.2 463.0,370.2 464.0,370.2 465.0,370.2 466.0,370.2 467.0,370.2 468.0,370.1 469.0,369.5 470.0,368.9 471.0,368.3 472.0,367.7 473.0,368.3 474.0,368.9 475.0,369.6 476.0,370.3 477.0,370.3 478.0,369.9 479.0,369.6 480.0,369.2 481.0,368.8 482.0,368.5 483.0,368.2 484.0,368.8 485.0,369.3 486.0,369.9 487.0,370.4 488.0,370.6 489.0,370.6 490.0,370.6 491.0,370.7 492.0,370.7 493.0,370.7 494.0,370.8 495.0,370.8 496.0,370.8 497.0,370.9 498.0,370.9 499.0,370.9 500.0,370.9 501.0,371.1 502.0,371.2 503.0,371.3 504.0,371.4 505.0,371.7 506.0,372.0 507.0,372.3 508.0,372.5 509.0,372.7 510.0,372.9 511.0,373.0 512.0,373.0 513.0,373.0 514.0,373.0 515.0,373.1 516.0,373.1 517.0,373.1 518.0,373.1 519.0,373.2 520.0,373.2 521.0,373.1 522.0,373.1 523.0,373.1 524.0,373.1 525.0,373.1 526.0,373.1 527.0,373.1 528.0,373.1 529.0,374.0 530.0,373.1 531.0,372.2 532.0,372.2 533.0,372.2 534.0,372.2 535.0,372.2 536.0,372.2 537.0,372.2 538.0,372.2 539.0,372.2 540.0,372.2 541.0,372.2 542.0,372.2 543.0,372.2 544.0,372.2 545.0,372.2 546.0,372.2 547.0,372.2 548.0,372.2 549.0,372.2 550.0,372.2 551.0,372.2 552.0,372.2 553.0,372.2 554.0,372.2 555.0,372.2 556.0,372.2 557.0,372.2 558.0,372.2 559.0,372.2 560.0,372.2 561.0,372.2 562.0,372.2 563.0,372.2 564.0,372.2 565.0,372.2 566.0,372.2 567.0,372.7 568.0,373.2 569.0,373.7 570.0,374.2 571.0,374.0 572.0,373.8 573.0,373.6 574.0,373.4 575.0,373.2 576.0,373.0 577.0,372.8 578.0,372.6 579.0,372.4 580.0,372.2 581.0,372.0 582.0,371.9 583.0,371.7 584.0,371.5 585.0,371.3 586.0,371.1 587.0,370.9 588.0,370.7 589.0,370.5 590.0,370.3 591.0,370.2 592.0,370.2 593.0,370.3 594.0,370.3 595.0,370.4 596.0,370.4 597.0,370.5 598.0,370.5 599.0,370.6 600.0,370.6 601.0,370.7 602.0,370.7 603.0,370.8 604.0,370.8 605.0,370.8 606.0,370.9 607.0,370.9 608.0,370.9 609.0,371.0 610.0,371.0 611.0,371.1 612.0,371.1 613.0,371.1 614.0,371.2 615.0,371.2 616.0,371.2 617.0,371.3 618.0,371.3 619.0,371.4 620.0,371.4 621.0,371.4 622.0,371.3 623.0,371.3 624.0,371.3 625.0,371.2 626.0,371.2 627.0,371.2 628.0,371.1 629.0,371.1 630.0,371.0 631.0,371.0 632.0,371.0 633.0,370.9 634.0,370.9 635.0,370.9 636.0,370.8 637.0,370.8 638.0,370.8 639.0,370.7 640.0,370.7 641.0,370.8 642.0,370.9 643.0,371.0 644.0,371.0 645.0,371.1 646.0,371.2 647.0,371.3 648.0,371.4 649.0,371.5 650.0,371.6 651.0,371.7 652.0,371.7 653.0,371.8 654.0,371.9 655.0,372.0 656.0,372.1 657.0,372.2 658.0,372.3 659.0,372.3 660.0,372.4 661.0,372.5 662.0,372.6 663.0,372.7 664.0,372.8 665.0,372.9 666.0,373.0 667.0,373.0 668.0,373.1 669.0,373.2 670.0,373.3 671.0,373.3 672.0,373.3 673.0,373.3 674.0,373.3 675.0,372.7 676.0,371.5 677.0,370.4 678.0,369.2 679.0,368.9 680.0,368.6 681.0,368.4 682.0,368.2 683.0,368.0 684.0,368.0 685.0,368.0 686.0,368.0 687.0,368.0 688.0,368.0 689.0,368.0 690.0,368.0 691.0,368.0 692.0,368.0 693.0,368.0 694.0,368.0 695.0,368.0 696.0,368.0 697.0,368.0 698.0,368.0 699.0,368.0 700.0,368.0 701.0,368.0 702.0,368.0 703.0,368.0 704.0,368.0 705.0,368.0 706.0,368.0 707.0,368.0 708.0,368.0 709.0,368.0 710.0,368.0 711.0,368.0 712.0,368.0 713.0,368.0 714.0,368.0 715.0,368.0 716.0,368.0 717.0,368.0 718.0,368.0 719.0,368.0 720.0,368.0 721.0,368.0 722.0,368.0 723.0,368.0 724.0,368.0 725.0,368.0 726.0,368.0 727.0,368.0 728.0,368.0 729.0,368.0 730.0,368.0 731.0,368.0 732.0,368.0 733.0,368.0 734.0,368.0 735.0,368.0 736.0,368.0 737.0,368.0 738.0,368.0 739.0,368.0 740.0,368.0 741.0,368.0 742.0,368.0 743.0,368.0 744.0,368.0 745.0,368.0 746.0,368.0 747.0,368.0 748.0,368.0 749.0,368.0 750.0,368.0 751.0,368.0 752.0,368.0 753.0,368.0 754.0,368.0 755.0,368.0 756.0,368.0 757.0,368.0 758.0,368.0 759.0,368.0 760.0,368.0 761.0,368.0 762.0,368.0 763.0,368.0 764.0,368.0 765.0,368.0 766.0,368.0 767.0,368.0 767.0,472.0 137.0,472.0" fill="#3000a8"/>
<polygon points="137.0,366.1 138.0,365.1 139.0,364.1 140.0,363.0 141.0,362.0 142.0,361.0 143.0,360.0 144.0,358.9 145.0,357.9 146.0,356.9 147.0,358.5 148.0,360.1 149.0,361.7 150.0,363.2 151.0,364.8 152.0,365.9 153.0,365.1 154.0,364.2 155.0,363.4 156.0,362.6 157.0,362.4 158.0,362.4 159.0,362.3 160.0,362.3 161.0,362.3 162.0,362.2 163.0,362.2 164.0,362.2 165.0,362.2 166.0,362.1 167.0,362.1 168.0,362.1 169.0,362.1 170.0,362.0 171.0,362.0 172.0,362.0 173.0,361.9 174.0,361.9 175.0,361.9 176.0,361.9 177.0,361.8 178.0,361.8 179.0,361.8 180.0,361.8 181.0,361.7 182.0,361.7 183.0,361.3 184.0,360.6 185.0,360.0 186.0,359.3 187.0,359.1 188.0,359.7 189.0,360.4 190.0,361.0 191.0,361.7 192.0,361.7 193.0,361.7 194.0,361.8 195.0,361.8 196.0,361.8 197.0,361.8 198.0,361.9 199.0,361.9 200.0,361.9 201.0,361.9 202.0,361.9 203.0,362.0 204.0,362.0 205.0,362.0 206.0,362.0 207.0,362.0 208.0,362.1 209.0,362.1 210.0,362.1 211.0,362.1 212.0,362.2 213.0,362.2 214.0,362.2 215.0,362.2 216.0,362.2 217.0,362.3 218.0,362.3 219.0,362.3 220.0,362.3 221.0,362.4 222.0,362.4 223.0,362.4 224.0,363.0 225.0,363.6 226.0,364.2 227.0,364.9 228.0,365.6 229.0,366.4 230.0,367.1 231.0,367.8 232.0,368.4 233.0,368.4 234.0,368.4 235.0,368.5 236.0,368.5 237.0,368.5 238.0,368.5 239.0,368.5 240.0,368.5 241.0,368.6 242.0,368.6 243.0,368.6 244.0,368.6 245.0,368.6 246.0,368.6 247.0,368.7 248.0,368.7 249.0,368.7 250.0,368.7 251.0,368.7 252.0,368.7 253.0,368.8 254.0,368.8 255.0,368.8 256.0,368.7 257.0,368.5 258.0,368.4 259.0,368.3 260.0,368.1 261.0,368.0 262.0,367.9 263.0,367.7 264.0,367.6 265.0,367.5 266.0,367.3 267.0,367.2 268.0,367.1 269.0,366.9 270.0,366.8 271.0,366.6 272.0,366.4 273.0,366.7 274.0,367.1 275.0,366.7 276.0,364.0 277.0,360.1 278.0,360.8 279.0,361.0 280.0,361.9 281.0,362.7 282.0,363.4 283.0,364.2 284.0,364.9 285.0,364.8 286.0,363.9 287.0,363.0 288.0,362.1 289.0,361.8 290.0,361.7 291.0,362.5 292.0,363.7 293.0,365.3 294.0,366.1 295.0,367.0 296.0,366.4 297.0,366.2 298.0,366.0 299.0,365.9 300.0,365.7 301.0,365.6 302.0,365.4 303.0,365.2 304.0,365.1 305.0,364.9 306.0,364.6 307.0,364.3 308.0,364.0 309.0,363.7 310.0,363.4 311.0,363.1 312.0,362.8 313.0,362.8 314.0,362.8 315.0,362.9 316.0,362.9 317.0,362.9 318.0,362.9 319.0,363.0 320.0,363.0 321.0,363.0 322.0,363.0 323.0,363.1 324.0,363.1 325.0,363.1 326.0,363.1 327.0,363.2 328.0,363.2 329.0,363.2 330.0,363.2 331.0,363.3 332.0,363.3 333.0,363.3 334.0,363.3 335.0,363.4 336.0,363.4 337.0,363.4 338.0,363.4 339.0,363.5 340.0,363.5 341.0,363.5 342.0,362.9 343.0,362.3 344.0,361.7 345.0,361.1 346.0,359.9 347.0,360.0 348.0,360.2 349.0,360.4 350.0,360.5 351.0,361.5 352.0,362.3 353.0,363.1 354.0,364.0 355.0,365.0 356.0,366.5 357.0,368.0 358.0,369.6 359.0,370.1 360.0,370.1 361.0,370.1 362.0,370.1 363.0,370.1 364.0,370.1 365.0,370.2 366.0,370.2 367.0,370.2 368.0,370.2 369.0,370.2 370.0,370.2 371.0,370.2 372.0,370.2 373.0,370.2 374.0,370.2 375.0,370.2 376.0,370.3 377.0,370.3 378.0,370.3 379.0,370.3 380.0,370.3 381.0,370.3 382.0,369.3 383.0,369.6 384.0,368.9 385.0,368.1 386.0,367.6 387.0,368.0 388.0,368.4 389.0,368.8 390.0,369.3 391.0,369.6 392.0,369.8 393.0,370.1 394.0,370.4 395.0,370.7 396.0,371.0 397.0,371.3 398.0,371.6 399.0,371.8 400.0,372.0 401.0,372.1 402.0,372.3 403.0,372.4 404.0,372.6 405.0,372.7 406.0,372.9 407.0,372.7 408.0,372.5 409.0,372.3 410.0,372.1 411.0,371.9 412.0,371.7 413.0,371.5 414.0,371.3 415.0,371.0 416.0,370.8 417.0,370.5 418.0,370.3 419.0,370.1 420.0,370.1 421.0,370.1 422.0,370.1 423.0,370.1 424.0,370.1 425.0,370.1 426.0,370.1 427.0,370.1 428.0,370.2 429.0,370.5 430.0,370.8 431.0,371.1 432.0,371.4 433.0,371.7 434.0,371.8 435.0,371.8 436.0,371.8 437.0,371.8 438.0,371.8 439.0,371.8 440.0,371.8 441.0,371.8 442.0,371.8 443.0,371.8 444.0,371.8 445.0,371.7 446.0,371.5 447.0,371.2 448.0,370.9 449.0,371.1 450.0,371.6 451.0,372.1 452.0,372.6 453.0,372.6 454.0,372.5 455.0,372.5 456.0,372.5 457.0,372.5 458.0,372.4 459.0,372.4 460.0,372.4 461.0,372.4 462.0,372.3 463.0,372.3 464.0,372.3 465.0,372.3 466.0,372.2 467.0,372.2 468.0,372.0 469.0,371.2 470.0,370.4 471.0,369.5 472.0,368.7 473.0,369.4 474.0,370.4 475.0,371.3 476.0,372.2 477.0,372.3 478.0,371.8 479.0,371.3 480.0,370.8 481.0,370.3 482.0,369.8 483.0,369.4 484.0,370.1 485.0,370.9 486.0,371.7 487.0,372.4 488.0,372.6 489.0,372.6 490.0,372.7 491.0,372.7 492.0,372.7 493.0,372.7 494.0,372.8 495.0,372.8 496.0,372.8 497.0,372.8 498.0,372.9 499.0,372.9 500.0,372.9 501.0,373.1 502.0,373.2 503.0,373.4 504.0,373.6 505.0,373.7 506.0,373.9 507.0,374.0 508.0,374.0 509.0,374.0 510.0,374.0 511.0,374.0 512.0,374.0 513.0,374.0 514.0,374.0 515.0,374.0 516.0,374.0 517.0,374.0 518.0,374.0 519.0,374.0 520.0,374.0 521.0,374.0 522.0,374.0 523.0,374.0 524.0,374.0 525.0,374.0 526.0,374.0 527.0,374.0 528.0,373.9 529.0,375.2 530.0,373.8 531.0,372.5 532.0,372.5 533.0,372.5 534.0,372.5 535.0,372.5 536.0,372.5 537.0,372.5 538.0,372.5 539.0,372.5 540.0,372.5 541.0,372.5 542.0,372.5 543.0,372.5 544.0,372.5 545.0,372.5 546.0,372.5 547.0,372.5 548.0,372.5 549.0,372.5 550.0,372.5 551.0,372.5 552.0,372.5 553.0,372.5 554.0,372.5 555.0,372.5 556.0,372.5 557.0,372.5 558.0,372.5 559.0,372.5 560.0,372.5 561.0,372.5 562.0,372.5 563.0,372.5 564.0,372.5 565.0,372.5 566.0,372.5 567.0,373.1 568.0,373.7 569.0,374.2 570.0,374.8 571.0,374.6 572.0,374.4 573.0,374.2 574.0,374.0 575.0,373.9 576.0,373.7 577.0,373.5 578.0,373.3 579.0,373.1 580.0,372.9 581.0,372.7 582.0,372.5 583.0,372.3 584.0,372.2 585.0,372.0 586.0,371.8 587.0,371.6 588.0,371.4 589.0,371.2 590.0,371.0 591.0,370.9 592.0,371.0 593.0,371.0 594.0,371.1 595.0,371.1 596.0,371.2 597.0,371.3 598.0,371.3 599.0,371.4 600.0,371.4 601.0,371.5 602.0,371.5 603.0,371.6 604.0,371.6 605.0,371.6 606.0,371.7 607.0,371.7 608.0,371.7 609.0,371.8 610.0,371.8 611.0,371.9 612.0,371.9 613.0,371.9 614.0,372.0 615.0,372.0 616.0,372.0 617.0,372.1 618.0,372.1 619.0,372.2 620.0,372.2 621.0,372.2 622.0,372.1 623.0,372.1 624.0,372.1 625.0,372.0 626.0,372.0 627.0,372.0 628.0,371.9 629.0,371.9 630.0,371.8 631.0,371.8 632.0,371.8 633.0,371.7 634.0,371.7 635.0,371.7 636.0,371.6 637.0,371.6 638.0,371.6 639.0,371.5 640.0,371.5 641.0,371.6 642.0,371.7 643.0,371.8 644.0,371.8 645.0,371.9 646.0,372.0 647.0,372.1 648.0,372.2 649.0,372.3 650.0,372.4 651.0,372.5 652.0,372.5 653.0,372.6 654.0,372.7 655.0,372.8 656.0,372.9 657.0,373.0 658.0,373.1 659.0,373.1 660.0,373.2 661.0,373.3 662.0,373.4 663.0,373.5 664.0,373.6 665.0,373.7 666.0,373.8 667.0,373.8 668.0,373.9 669.0,374.0 670.0,374.1 671.0,374.1 672.0,374.1 673.0,374.1 674.0,374.1 675.0,373.5 676.0,372.3 677.0,371.2 678.0,370.0 679.0,369.7 680.0,369.4 681.0,369.2 682.0,369.0 683.0,368.8 684.0,368.8 685.0,368.8 686.0,368.8 687.0,368.8 688.0,368.8 689.0,368.8 690.0,368.8 691.0,368.8 692.0,368.8 693.0,368.8 694.0,368.8 695.0,368.8 696.0,368.8 697.0,368.8 698.0,368.8 699.0,368.8 700.0,368.8 701.0,368.8 702.0,368.8 703.0,368.8 704.0,368.8 705.0,368.8 706.0,368.8 707.0,368.8 708.0,368.8 709.0,368.8 710.0,368.8 711.0,368.8 712.0,368.8 713.0,368.8 714.0,368.8 715.0,368.8 716.0,368.8 717.0,368.8 718.0,368.8 719.0,368.8 720.0,368.8 721.0,368.8 722.0,368.8 723.0,368.8 724.0,368.8 725.0,368.8 726.0,368.8 727.0,368.8 728.0,368.8 729.0,368.8 730.0,368.8 731.0,368.8 732.0,368.8 733.0,368.8 734.0,368.8 735.0,368.8 736.0,368.8 737.0,368.8 738.0,368.8 739.0,368.8 740.0,368.8 741.0,368.8 742.0,368.8 743.0,368.8 744.0,368.8 745.0,368.8 746.0,368.8 747.0,368.8 748.0,368.8 749.0,368.8 750.0,368.8 751.0,368.8 752.0,368.8 753.0,368.8 754.0,368.8 755.0,368.8 756.0,368.8 757.0,368.8 758.0,368.8 759.0,368.8 760.0,368.8 761.0,368.8 762.0,368.8 763.0,368.8 764.0,368.8 765.0,368.8 766.0,368.8 767.0,368.8 767.0,472.0 137.0,472.0" fill="#8000a8"/>
<polygon points="392.1,351.3 396.1,357.3 392.1,363.3 388.1,357.3" fill="#88ff00" stroke="#000" stroke-width="1" stroke-linejoin="round"/>
<polygon points="390.6,357.3 392.1,355.8 393.6,357.3 392.1,358.8" fill="#ffff00"/>
<polygon points="315.2,356.6 319.5,352.3 323.8,356.6 319.5,360.90000000000003" fill="#ffaa00"/>
<polygon points="316.5,357.8 322.5,357.8 319.5,360.9" fill="#ffff00"/>
<polygon points="317.1,355.8 319.5,353.40000000000003 321.9,355.8 319.5,358.2" fill="#ff5500"/>
<ellipse cx="240.4" cy="362.9" rx="4.6" ry="2.2" fill="#ffff00"/>
<polygon points="199.8,357 202,354.8 204.2,357 202,359.2" fill="#ffff00"/>
<polyline points="137.3,368.5 146.0,361.2 151.1,367.8 156.2,365.6 179.4,364.9 182.3,364.1 188.1,368.9 193.9,366.3 208.5,366.3 225.9,367.8 239.0,369.2 262.5,368.8 277.5,366.2 285.0,364.2 292.5,367.5 330.0,367.5 345.0,365.7 356.0,369.8 370.0,371.7 381.5,371.7 385.8,368.4 390.1,370.2 398.8,372.7 406.0,373.8 411.7,372.7 418.9,371.0 427.5,371.0 433.3,372.7 444.8,372.7 448.4,371.7 452.0,373.5 467.8,373.1 472.1,369.5 476.4,373.5 482.9,370.2 487.2,373.5 500.0,373.8 506.6,374.9 525.0,374.9" fill="none" stroke="#000" stroke-width="2" stroke-linejoin="round"/>
<polyline points="571.0,374.0 589.2,373.8 593.5,372.3 620.0,372.3 640.0,372.7 651.5,373.5 681.7,373.5 684.6,372.1 700.0,372.0 701.8,370.4 704.0,372.0 716.0,372.0 717.7,370.9 720.0,372.0 734.0,372.0 738.5,369.7 742.0,372.0 755.0,372.0 762.0,371.0 767.0,371.3" fill="none" stroke="#000" stroke-width="2" stroke-linejoin="round"/>
<polyline points="137.3,380.1 143.1,376.5 156.2,376.2 166.3,374.3 173.6,375.8 182.3,379.4 193.9,379.1 225.9,377.2 250.0,377.9 280.0,378.0 315.0,375.5 320.0,378.4 323.5,380.0 356.0,379.7 370.0,380.3 384.4,379.9 398.8,380.7 417.5,381.7 444.8,381.7 450.5,380.7 469.2,380.7 472.1,379.3 476.4,380.7 483.6,379.3 487.9,381.0 500.0,381.7 507.7,382.7 548.7,382.7 566.4,382.1 588.5,381.5 597.3,380.4 632.0,380.0 640.0,380.7 668.8,382.2 683.0,381.0 700.4,379.9 707.6,381.7 714.8,380.3 726.3,381.3 740.7,381.7 766.5,380.7" fill="none" stroke="#000" stroke-width="1" stroke-linejoin="round"/>
<polyline points="137.3,392.5 144.5,391.0 156.2,391.7 172.1,388.8 183.8,391.7 211.4,391.0 223.0,389.6 250.0,388.8 275.0,389.2 280.0,390.8 300.0,388.2 307.5,388.8 316.2,392.0 334.0,391.2" fill="none" stroke="#000" stroke-width="2" stroke-linejoin="round"/>
<polyline points="381.0,390.8 406.0,390.0 431.0,391.2 456.0,391.8 481.0,392.0 496.0,391.2 503.5,393.2 531.0,392.5 582.0,392.5 604.5,391.2 632.0,392.0 647.0,390.8 667.0,392.5 692.0,391.2 712.0,390.0 732.0,391.8 767.0,391.2" fill="none" stroke="#000" stroke-width="2" stroke-linejoin="round"/>
<polyline points="137.0,412.8 208.5,413.5 211.4,412.8 280.0,411.8 310.0,413.0 356.0,412.5 388.5,413.2 431.0,412.5 498.5,412.5 506.0,413.8 582.0,413.2 767.0,413.0" fill="none" stroke="#000" stroke-width="1" stroke-linejoin="round"/>
<line x1="159.5" y1="472" x2="159.5" y2="467.5" stroke="#000" stroke-width="1"/>
<line x1="159.5" y1="158" x2="159.5" y2="162.5" stroke="#000" stroke-width="1"/>
<line x1="184" y1="472" x2="184" y2="463.5" stroke="#000" stroke-width="2"/>
<line x1="184" y1="158" x2="184" y2="166.5" stroke="#000" stroke-width="2"/>
<line x1="210.5" y1="472" x2="210.5" y2="467.5" stroke="#000" stroke-width="1"/>
<line x1="210.5" y1="158" x2="210.5" y2="162.5" stroke="#000" stroke-width="1"/>
<line x1="235" y1="472" x2="235" y2="463.5" stroke="#000" stroke-width="2"/>
<line x1="235" y1="158" x2="235" y2="166.5" stroke="#000" stroke-width="2"/>
<line x1="261.5" y1="472" x2="261.5" y2="467.5" stroke="#000" stroke-width="1"/>
<line x1="261.5" y1="158" x2="261.5" y2="162.5" stroke="#000" stroke-width="1"/>
<line x1="286" y1="472" x2="286" y2="463.5" stroke="#000" stroke-width="2"/>
<line x1="286" y1="158" x2="286" y2="166.5" stroke="#000" stroke-width="2"/>
<line x1="312.5" y1="472" x2="312.5" y2="467.5" stroke="#000" stroke-width="1"/>
<line x1="312.5" y1="158" x2="312.5" y2="162.5" stroke="#000" stroke-width="1"/>
<line x1="337" y1="472" x2="337" y2="463.5" stroke="#000" stroke-width="2"/>
<line x1="337" y1="158" x2="337" y2="166.5" stroke="#000" stroke-width="2"/>
<line x1="363.5" y1="472" x2="363.5" y2="467.5" stroke="#000" stroke-width="1"/>
<line x1="363.5" y1="158" x2="363.5" y2="162.5" stroke="#000" stroke-width="1"/>
<line x1="388" y1="472" x2="388" y2="463.5" stroke="#000" stroke-width="2"/>
<line x1="388" y1="158" x2="388" y2="166.5" stroke="#000" stroke-width="2"/>
<line x1="414.5" y1="472" x2="414.5" y2="467.5" stroke="#000" stroke-width="1"/>
<line x1="414.5" y1="158" x2="414.5" y2="162.5" stroke="#000" stroke-width="1"/>
<line x1="439" y1="472" x2="439" y2="463.5" stroke="#000" stroke-width="2"/>
<line x1="439" y1="158" x2="439" y2="166.5" stroke="#000" stroke-width="2"/>
<line x1="465.5" y1="472" x2="465.5" y2="467.5" stroke="#000" stroke-width="1"/>
<line x1="465.5" y1="158" x2="465.5" y2="162.5" stroke="#000" stroke-width="1"/>
<line x1="490" y1="472" x2="490" y2="463.5" stroke="#000" stroke-width="2"/>
<line x1="490" y1="158" x2="490" y2="166.5" stroke="#000" stroke-width="2"/>
<line x1="516.5" y1="472" x2="516.5" y2="467.5" stroke="#000" stroke-width="1"/>
<line x1="516.5" y1="158" x2="516.5" y2="162.5" stroke="#000" stroke-width="1"/>
<line x1="541" y1="472" x2="541" y2="463.5" stroke="#000" stroke-width="2"/>
<line x1="541" y1="158" x2="541" y2="166.5" stroke="#000" stroke-width="2"/>
<line x1="567.5" y1="472" x2="567.5" y2="467.5" stroke="#000" stroke-width="1"/>
<line x1="567.5" y1="158" x2="567.5" y2="162.5" stroke="#000" stroke-width="1"/>
<line x1="592" y1="472" x2="592" y2="463.5" stroke="#000" stroke-width="2"/>
<line x1="592" y1="158" x2="592" y2="166.5" stroke="#000" stroke-width="2"/>
<line x1="618.5" y1="472" x2="618.5" y2="467.5" stroke="#000" stroke-width="1"/>
<line x1="618.5" y1="158" x2="618.5" y2="162.5" stroke="#000" stroke-width="1"/>
<line x1="643" y1="472" x2="643" y2="463.5" stroke="#000" stroke-width="2"/>
<line x1="643" y1="158" x2="643" y2="166.5" stroke="#000" stroke-width="2"/>
<line x1="669.5" y1="472" x2="669.5" y2="467.5" stroke="#000" stroke-width="1"/>
<line x1="669.5" y1="158" x2="669.5" y2="162.5" stroke="#000" stroke-width="1"/>
<line x1="694" y1="472" x2="694" y2="463.5" stroke="#000" stroke-width="2"/>
<line x1="694" y1="158" x2="694" y2="166.5" stroke="#000" stroke-width="2"/>
<line x1="720.5" y1="472" x2="720.5" y2="467.5" stroke="#000" stroke-width="1"/>
<line x1="720.5" y1="158" x2="720.5" y2="162.5" stroke="#000" stroke-width="1"/>
<line x1="745" y1="472" x2="745" y2="463.5" stroke="#000" stroke-width="2"/>
<line x1="745" y1="158" x2="745" y2="166.5" stroke="#000" stroke-width="2"/>
<line x1="137" y1="460.5" x2="141" y2="460.5" stroke="#000" stroke-width="1"/>
<line x1="767" y1="460.5" x2="763" y2="460.5" stroke="#000" stroke-width="1"/>
<line x1="137" y1="444.5" x2="141" y2="444.5" stroke="#000" stroke-width="1"/>
<line x1="767" y1="444.5" x2="763" y2="444.5" stroke="#000" stroke-width="1"/>
<line x1="137" y1="428.5" x2="141" y2="428.5" stroke="#000" stroke-width="1"/>
<line x1="767" y1="428.5" x2="763" y2="428.5" stroke="#000" stroke-width="1"/>
<line x1="137" y1="412.5" x2="141" y2="412.5" stroke="#000" stroke-width="1"/>
<line x1="767" y1="412.5" x2="763" y2="412.5" stroke="#000" stroke-width="1"/>
<line x1="137" y1="396.0" x2="145" y2="396.0" stroke="#000" stroke-width="2"/>
<line x1="767" y1="396.0" x2="759" y2="396.0" stroke="#000" stroke-width="2"/>
<line x1="137" y1="379.5" x2="141" y2="379.5" stroke="#000" stroke-width="1"/>
<line x1="767" y1="379.5" x2="763" y2="379.5" stroke="#000" stroke-width="1"/>
<line x1="137" y1="363.5" x2="141" y2="363.5" stroke="#000" stroke-width="1"/>
<line x1="767" y1="363.5" x2="763" y2="363.5" stroke="#000" stroke-width="1"/>
<line x1="137" y1="347.5" x2="141" y2="347.5" stroke="#000" stroke-width="1"/>
<line x1="767" y1="347.5" x2="763" y2="347.5" stroke="#000" stroke-width="1"/>
<line x1="137" y1="331.5" x2="141" y2="331.5" stroke="#000" stroke-width="1"/>
<line x1="767" y1="331.5" x2="763" y2="331.5" stroke="#000" stroke-width="1"/>
<line x1="137" y1="315.0" x2="145" y2="315.0" stroke="#000" stroke-width="2"/>
<line x1="767" y1="315.0" x2="759" y2="315.0" stroke="#000" stroke-width="2"/>
<line x1="137" y1="299.5" x2="141" y2="299.5" stroke="#000" stroke-width="1"/>
<line x1="767" y1="299.5" x2="763" y2="299.5" stroke="#000" stroke-width="1"/>
<line x1="137" y1="283.5" x2="141" y2="283.5" stroke="#000" stroke-width="1"/>
<line x1="767" y1="283.5" x2="763" y2="283.5" stroke="#000" stroke-width="1"/>
<line x1="137" y1="267.5" x2="141" y2="267.5" stroke="#000" stroke-width="1"/>
<line x1="767" y1="267.5" x2="763" y2="267.5" stroke="#000" stroke-width="1"/>
<line x1="137" y1="251.5" x2="141" y2="251.5" stroke="#000" stroke-width="1"/>
<line x1="767" y1="251.5" x2="763" y2="251.5" stroke="#000" stroke-width="1"/>
<line x1="137" y1="234.0" x2="145" y2="234.0" stroke="#000" stroke-width="2"/>
<line x1="767" y1="234.0" x2="759" y2="234.0" stroke="#000" stroke-width="2"/>
<line x1="137" y1="218.5" x2="141" y2="218.5" stroke="#000" stroke-width="1"/>
<line x1="767" y1="218.5" x2="763" y2="218.5" stroke="#000" stroke-width="1"/>
<line x1="137" y1="202.5" x2="141" y2="202.5" stroke="#000" stroke-width="1"/>
<line x1="767" y1="202.5" x2="763" y2="202.5" stroke="#000" stroke-width="1"/>
<line x1="137" y1="186.5" x2="141" y2="186.5" stroke="#000" stroke-width="1"/>
<line x1="767" y1="186.5" x2="763" y2="186.5" stroke="#000" stroke-width="1"/>
<line x1="137" y1="170.5" x2="141" y2="170.5" stroke="#000" stroke-width="1"/>
<line x1="767" y1="170.5" x2="763" y2="170.5" stroke="#000" stroke-width="1"/>
<rect x="136" y="157" width="632" height="316" fill="none" stroke="#000" stroke-width="2"/>
<rect x="784" y="247.0" width="18" height="22.6" fill="#ff2020"/>
<rect x="784" y="269.6" width="18" height="22.6" fill="#ff5500"/>
<rect x="784" y="292.2" width="18" height="22.6" fill="#ffaa00"/>
<rect x="784" y="314.8" width="18" height="22.6" fill="#ffff00"/>
<rect x="784" y="337.4" width="18" height="22.6" fill="#88ff00"/>
<rect x="784" y="360.0" width="18" height="22.6" fill="#00ff88"/>
<rect x="784" y="382.6" width="18" height="22.6" fill="#00ffff"/>
<rect x="784" y="405.2" width="18" height="22.6" fill="#0060ff"/>
<rect x="784" y="427.8" width="18" height="22.6" fill="#0000aa"/>
<rect x="784" y="450.4" width="18" height="22.6" fill="#3000a8"/>
<line x1="784" y1="269.6" x2="802" y2="269.6" stroke="#000" stroke-width="2"/>
<line x1="784" y1="292.2" x2="802" y2="292.2" stroke="#000" stroke-width="2"/>
<line x1="784" y1="314.8" x2="802" y2="314.8" stroke="#000" stroke-width="2"/>
<line x1="784" y1="337.4" x2="802" y2="337.4" stroke="#000" stroke-width="2"/>
<line x1="784" y1="360.0" x2="802" y2="360.0" stroke="#000" stroke-width="2"/>
<line x1="784" y1="382.6" x2="802" y2="382.6" stroke="#000" stroke-width="2"/>
<line x1="784" y1="405.2" x2="802" y2="405.2" stroke="#000" stroke-width="2"/>
<line x1="784" y1="427.8" x2="802" y2="427.8" stroke="#000" stroke-width="2"/>
<line x1="784" y1="450.4" x2="802" y2="450.4" stroke="#000" stroke-width="2"/>
<polygon points="782.6,247.5 793.4,205.2 803.4,247.5" fill="#000"/>
<polygon points="785.2,246.5 793.4,211.2 800.8,246.5" fill="#ffaaaa"/>
<polygon points="782.6,472.5 793.4,516 803.4,472.5" fill="#000"/>
<polygon points="785.2,473.5 793.4,510.8 800.8,473.5" fill="#8000a8"/>
<rect x="784" y="247" width="18" height="226" fill="none" stroke="#000" stroke-width="2"/>
<path d="M349.64 95.62 L347.78 93.77 L345.00 92.85 L341.29 92.85 L338.51 93.77 L336.65 95.62 L336.65 97.47 L337.58 99.32 L338.51 100.24 L340.36 101.16 L345.93 103.01 L347.78 103.94 L348.71 104.86 L349.64 106.71 L349.64 109.48 L347.78 111.33 L345.00 112.25 L341.29 112.25 L338.51 111.33 L336.65 109.48 M366.34 99.32 L366.34 112.25 M366.34 102.09 L364.48 100.24 L362.63 99.32 L359.84 99.32 L357.99 100.24 L356.13 102.09 L355.20 104.86 L355.20 106.71 L356.13 109.48 L357.99 111.33 L359.84 112.25 L362.63 112.25 L364.48 111.33 L366.34 109.48 M374.69 92.85 L374.69 108.55 L375.61 111.33 L377.47 112.25 L379.32 112.25 M371.90 99.32 L378.40 99.32 M384.89 99.32 L384.89 108.55 L385.82 111.33 L387.67 112.25 L390.46 112.25 L392.31 111.33 L395.10 108.55 M395.10 99.32 L395.10 112.25 M402.52 99.32 L402.52 112.25 M402.52 104.86 L403.45 102.09 L405.30 100.24 L407.16 99.32 L409.94 99.32 M424.78 99.32 L424.78 112.25 M424.78 102.09 L422.93 100.24 L421.07 99.32 L418.29 99.32 L416.43 100.24 L414.58 102.09 L413.65 104.86 L413.65 106.71 L414.58 109.48 L416.43 111.33 L418.29 112.25 L421.07 112.25 L422.93 111.33 L424.78 109.48 M433.13 92.85 L433.13 108.55 L434.06 111.33 L435.92 112.25 L437.77 112.25 M430.35 99.32 L436.84 99.32 M442.41 92.85 L443.34 93.77 L444.26 92.85 L443.34 91.93 L442.41 92.85 M443.34 99.32 L443.34 112.25 M454.47 99.32 L452.61 100.24 L450.76 102.09 L449.83 104.86 L449.83 106.71 L450.76 109.48 L452.61 111.33 L454.47 112.25 L457.25 112.25 L459.11 111.33 L460.96 109.48 L461.89 106.71 L461.89 104.86 L460.96 102.09 L459.11 100.24 L457.25 99.32 L454.47 99.32 M468.38 99.32 L468.38 112.25 M468.38 103.01 L471.17 100.24 L473.02 99.32 L475.81 99.32 L477.66 100.24 L478.59 103.01 L478.59 112.25 M500.85 92.85 L500.85 112.25 M500.85 92.85 L509.20 92.85 L511.99 93.77 L512.92 94.70 L513.84 96.55 L513.84 98.39 L512.92 100.24 L511.99 101.16 L509.20 102.09 L500.85 102.09 M507.35 102.09 L513.84 112.25 M530.54 99.32 L530.54 112.25 M530.54 102.09 L528.69 100.24 L526.83 99.32 L524.05 99.32 L522.19 100.24 L520.34 102.09 L519.41 104.86 L519.41 106.71 L520.34 109.48 L522.19 111.33 L524.05 112.25 L526.83 112.25 L528.69 111.33 L530.54 109.48 M538.89 92.85 L538.89 108.55 L539.82 111.33 L541.67 112.25 L543.53 112.25 M536.11 99.32 L542.60 99.32 M548.17 92.85 L549.10 93.77 L550.02 92.85 L549.10 91.93 L548.17 92.85 M549.10 99.32 L549.10 112.25 M560.23 99.32 L558.37 100.24 L556.52 102.09 L555.59 104.86 L555.59 106.71 L556.52 109.48 L558.37 111.33 L560.23 112.25 L563.01 112.25 L564.87 111.33 L566.72 109.48 L567.65 106.71 L567.65 104.86 L566.72 102.09 L564.87 100.24 L563.01 99.32 L560.23 99.32" fill="none" stroke="#000" stroke-width="1.7" stroke-linecap="square" stroke-linejoin="round"/>
<path d="M51.25 122.64 L50.05 123.66 L49.15 125.70 L48.85 128.25 L48.85 130.79 L49.15 132.83 L50.05 135.38 L51.25 136.40 M56.75 132.83 L64.25 125.85 M56.75 125.85 L64.25 132.83 M72.05 125.19 L73.29 124.68 L75.15 123.15 L75.15 133.85 M83.13 123.15 L81.69 123.66 L80.73 125.19 L80.25 127.74 L80.25 129.26 L80.73 131.81 L81.69 133.34 L83.13 133.85 L84.09 133.85 L85.53 133.34 L86.49 131.81 L86.97 129.26 L86.97 127.74 L86.49 125.19 L85.53 123.66 L84.09 123.15 L83.13 123.15 M94.43 123.15 L92.99 123.66 L92.03 125.19 L91.55 127.74 L91.55 129.26 L92.03 131.81 L92.99 133.34 L94.43 133.85 L95.39 133.85 L96.83 133.34 L97.79 131.81 L98.27 129.26 L98.27 127.74 L97.79 125.19 L96.83 123.66 L95.39 123.15 L94.43 123.15 M106.03 123.15 L104.59 123.66 L103.63 125.19 L103.15 127.74 L103.15 129.26 L103.63 131.81 L104.59 133.34 L106.03 133.85 L106.99 133.85 L108.43 133.34 L109.39 131.81 L109.87 129.26 L109.87 127.74 L109.39 125.19 L108.43 123.66 L106.99 123.15 L106.03 123.15 M122.55 126.72 L122.55 133.85 M122.55 128.75 L124.11 127.23 L125.15 126.72 L126.71 126.72 L127.75 127.23 L128.27 128.75 L128.27 133.85 M128.27 128.75 L129.83 127.23 L130.87 126.72 L132.43 126.72 L133.47 127.23 L133.99 128.75 L133.99 133.85 M139.75 122.64 L140.95 123.66 L141.85 125.70 L142.15 128.25 L142.15 130.79 L141.85 132.83 L140.95 135.38 L139.75 136.40" fill="none" stroke="#000" stroke-width="1.9" stroke-linecap="square" stroke-linejoin="round"/>
<path d="M780.12 157.45 L780.12 166.27 L780.64 167.83 L781.68 168.35 L782.73 168.35 M778.55 161.08 L782.20 161.08 M785.86 162.12 L795.26 162.12 M785.86 165.24 L795.26 165.24 M799.43 160.05 L799.43 159.53 L799.95 158.49 L800.48 157.97 L801.52 157.45 L803.61 157.45 L804.65 157.97 L805.17 158.49 L805.70 159.53 L805.70 160.56 L805.17 161.60 L804.13 163.16 L798.91 168.35 L806.22 168.35 M816.14 161.08 L815.62 162.64 L814.57 163.68 L813.00 164.20 L812.48 164.20 L810.92 163.68 L809.87 162.64 L809.35 161.08 L809.35 160.56 L809.87 159.01 L810.92 157.97 L812.48 157.45 L813.00 157.45 L814.57 157.97 L815.62 159.01 L816.14 161.08 L816.14 163.68 L815.62 166.27 L814.57 167.83 L813.00 168.35 L811.96 168.35 L810.39 167.83 L809.87 166.79 M822.40 157.45 L820.84 157.97 L820.31 159.01 L820.31 160.05 L820.84 161.08 L821.88 161.60 L823.97 162.12 L825.53 162.64 L826.58 163.68 L827.10 164.72 L827.10 166.27 L826.58 167.31 L826.06 167.83 L824.49 168.35 L822.40 168.35 L820.84 167.83 L820.31 167.31 L819.79 166.27 L819.79 164.72 L820.31 163.68 L821.36 162.64 L822.92 162.12 L825.01 161.60 L826.06 161.08 L826.58 160.05 L826.58 159.01 L826.06 157.97 L824.49 157.45 L822.40 157.45 M832.84 157.45 L831.28 157.97 L830.75 159.01 L830.75 160.05 L831.28 161.08 L832.32 161.60 L834.41 162.12 L835.97 162.64 L837.02 163.68 L837.54 164.72 L837.54 166.27 L837.02 167.31 L836.50 167.83 L834.93 168.35 L832.84 168.35 L831.28 167.83 L830.75 167.31 L830.23 166.27 L830.23 164.72 L830.75 163.68 L831.80 162.64 L833.36 162.12 L835.45 161.60 L836.50 161.08 L837.02 160.05 L837.02 159.01 L836.50 157.97 L834.93 157.45 L832.84 157.45 M843.81 157.45 L842.24 157.97 L841.20 159.53 L840.67 162.12 L840.67 163.68 L841.20 166.27 L842.24 167.83 L843.81 168.35 L844.85 168.35 L846.42 167.83 L847.46 166.27 L847.98 163.68 L847.98 162.12 L847.46 159.53 L846.42 157.97 L844.85 157.45 L843.81 157.45 M854.25 157.45 L852.68 157.97 L851.64 159.53 L851.11 162.12 L851.11 163.68 L851.64 166.27 L852.68 167.83 L854.25 168.35 L855.29 168.35 L856.86 167.83 L857.90 166.27 L858.42 163.68 L858.42 162.12 L857.90 159.53 L856.86 157.97 L855.29 157.45 L854.25 157.45 M875.65 162.64 L875.13 161.60 L873.56 161.08 L872.00 161.08 L870.43 161.60 L869.91 162.64 L870.43 163.68 L871.47 164.20 L874.08 164.72 L875.13 165.24 L875.65 166.27 L875.65 166.79 L875.13 167.83 L873.56 168.35 L872.00 168.35 L870.43 167.83 L869.91 166.79" fill="none" stroke="#000" stroke-width="1.1" stroke-linecap="square" stroke-linejoin="round"/>
<path d="M688.35 505.84 L687.15 506.86 L686.25 508.90 L685.95 511.45 L685.95 513.99 L686.25 516.03 L687.15 518.58 L688.35 519.60 M693.85 516.03 L701.35 509.05 M693.85 509.05 L701.35 516.03 M709.15 508.39 L710.39 507.88 L712.25 506.35 L712.25 517.05 M720.23 506.35 L718.79 506.86 L717.83 508.39 L717.35 510.94 L717.35 512.46 L717.83 515.01 L718.79 516.54 L720.23 517.05 L721.19 517.05 L722.63 516.54 L723.59 515.01 L724.07 512.46 L724.07 510.94 L723.59 508.39 L722.63 506.86 L721.19 506.35 L720.23 506.35 M731.53 506.35 L730.09 506.86 L729.13 508.39 L728.65 510.94 L728.65 512.46 L729.13 515.01 L730.09 516.54 L731.53 517.05 L732.49 517.05 L733.93 516.54 L734.89 515.01 L735.37 512.46 L735.37 510.94 L734.89 508.39 L733.93 506.86 L732.49 506.35 L731.53 506.35 M743.13 506.35 L741.69 506.86 L740.73 508.39 L740.25 510.94 L740.25 512.46 L740.73 515.01 L741.69 516.54 L743.13 517.05 L744.09 517.05 L745.53 516.54 L746.49 515.01 L746.97 512.46 L746.97 510.94 L746.49 508.39 L745.53 506.86 L744.09 506.35 L743.13 506.35 M759.65 509.92 L759.65 517.05 M759.65 511.95 L761.21 510.43 L762.25 509.92 L763.81 509.92 L764.85 510.43 L765.37 511.95 L765.37 517.05 M765.37 511.95 L766.93 510.43 L767.97 509.92 L769.53 509.92 L770.57 510.43 L771.09 511.95 L771.09 517.05 M776.85 505.84 L778.05 506.86 L778.95 508.90 L779.25 511.45 L779.25 513.99 L778.95 516.03 L778.05 518.58 L776.85 519.60" fill="none" stroke="#000" stroke-width="1.9" stroke-linecap="square" stroke-linejoin="round"/>
<path d="M379.95 531.25 L390.37 545.95 M390.37 531.25 L379.95 545.95 M415.68 538.25 L414.19 536.85 L412.70 536.15 L410.47 536.15 L408.98 536.85 L407.49 538.25 L406.75 540.35 L406.75 541.75 L407.49 543.85 L408.98 545.25 L410.47 545.95 L412.70 545.95 L414.19 545.25 L415.68 543.85 M423.87 536.15 L422.38 536.85 L420.89 538.25 L420.14 540.35 L420.14 541.75 L420.89 543.85 L422.38 545.25 L423.87 545.95 L426.10 545.95 L427.59 545.25 L429.08 543.85 L429.82 541.75 L429.82 540.35 L429.08 538.25 L427.59 536.85 L426.10 536.15 L423.87 536.15 M438.01 536.15 L436.52 536.85 L435.03 538.25 L434.29 540.35 L434.29 541.75 L435.03 543.85 L436.52 545.25 L438.01 545.95 L440.24 545.95 L441.73 545.25 L443.22 543.85 L443.96 541.75 L443.96 540.35 L443.22 538.25 L441.73 536.85 L440.24 536.15 L438.01 536.15 M449.17 536.15 L449.17 545.95 M449.17 540.35 L449.92 538.25 L451.41 536.85 L452.89 536.15 L455.13 536.15 M467.04 531.25 L467.04 545.95 M467.04 538.25 L465.55 536.85 L464.06 536.15 L461.83 536.15 L460.34 536.85 L458.85 538.25 L458.10 540.35 L458.10 541.75 L458.85 543.85 L460.34 545.25 L461.83 545.95 L464.06 545.95 L465.55 545.25 L467.04 543.85 M472.25 531.25 L472.99 531.95 L473.74 531.25 L472.99 530.55 L472.25 531.25 M472.99 536.15 L472.99 545.95 M478.95 536.15 L478.95 545.95 M478.95 538.95 L481.18 536.85 L482.67 536.15 L484.90 536.15 L486.39 536.85 L487.13 538.95 L487.13 545.95 M501.28 536.15 L501.28 545.95 M501.28 538.25 L499.79 536.85 L498.30 536.15 L496.07 536.15 L494.58 536.85 L493.09 538.25 L492.34 540.35 L492.34 541.75 L493.09 543.85 L494.58 545.25 L496.07 545.95 L498.30 545.95 L499.79 545.25 L501.28 543.85 M507.97 531.25 L507.97 543.15 L508.72 545.25 L510.21 545.95 L511.70 545.95 M505.74 536.15 L510.95 536.15 M515.42 540.35 L524.35 540.35 L524.35 538.95 L523.61 537.55 L522.86 536.85 L521.37 536.15 L519.14 536.15 L517.65 536.85 L516.16 538.25 L515.42 540.35 L515.42 541.75 L516.16 543.85 L517.65 545.25 L519.14 545.95 L521.37 545.95 L522.86 545.25 L524.35 543.85" fill="none" stroke="#000" stroke-width="1.9" stroke-linecap="square" stroke-linejoin="round"/>
<path d="M11.32 -16.75 L0.95 -0.95 M0.95 -16.75 L11.32 -16.75 M0.95 -0.95 L11.32 -0.95 M36.50 -9.23 L35.02 -10.73 L33.54 -11.48 L31.32 -11.48 L29.84 -10.73 L28.36 -9.23 L27.62 -6.97 L27.62 -5.46 L28.36 -3.21 L29.84 -1.70 L31.32 -0.95 L33.54 -0.95 L35.02 -1.70 L36.50 -3.21 M44.65 -11.48 L43.17 -10.73 L41.69 -9.23 L40.95 -6.97 L40.95 -5.46 L41.69 -3.21 L43.17 -1.70 L44.65 -0.95 L46.87 -0.95 L48.36 -1.70 L49.84 -3.21 L50.58 -5.46 L50.58 -6.97 L49.84 -9.23 L48.36 -10.73 L46.87 -11.48 L44.65 -11.48 M58.73 -11.48 L57.24 -10.73 L55.76 -9.23 L55.02 -6.97 L55.02 -5.46 L55.76 -3.21 L57.24 -1.70 L58.73 -0.95 L60.95 -0.95 L62.43 -1.70 L63.91 -3.21 L64.65 -5.46 L64.65 -6.97 L63.91 -9.23 L62.43 -10.73 L60.95 -11.48 L58.73 -11.48 M69.84 -11.48 L69.84 -0.95 M69.84 -6.97 L70.58 -9.23 L72.06 -10.73 L73.54 -11.48 L75.76 -11.48 M87.61 -16.75 L87.61 -0.95 M87.61 -9.23 L86.13 -10.73 L84.65 -11.48 L82.43 -11.48 L80.95 -10.73 L79.47 -9.23 L78.73 -6.97 L78.73 -5.46 L79.47 -3.21 L80.95 -1.70 L82.43 -0.95 L84.65 -0.95 L86.13 -1.70 L87.61 -3.21 M92.80 -16.75 L93.54 -16.00 L94.28 -16.75 L93.54 -17.50 L92.80 -16.75 M93.54 -11.48 L93.54 -0.95 M99.47 -11.48 L99.47 -0.95 M99.47 -8.47 L101.69 -10.73 L103.17 -11.48 L105.39 -11.48 L106.87 -10.73 L107.61 -8.47 L107.61 -0.95 M121.69 -11.48 L121.69 -0.95 M121.69 -9.23 L120.21 -10.73 L118.72 -11.48 L116.50 -11.48 L115.02 -10.73 L113.54 -9.23 L112.80 -6.97 L112.80 -5.46 L113.54 -3.21 L115.02 -1.70 L116.50 -0.95 L118.72 -0.95 L120.21 -1.70 L121.69 -3.21 M128.35 -16.75 L128.35 -3.96 L129.09 -1.70 L130.58 -0.95 L132.06 -0.95 M126.13 -11.48 L131.32 -11.48 M135.76 -6.97 L144.65 -6.97 L144.65 -8.47 L143.91 -9.98 L143.17 -10.73 L141.69 -11.48 L139.46 -11.48 L137.98 -10.73 L136.50 -9.23 L135.76 -6.97 L135.76 -5.46 L136.50 -3.21 L137.98 -1.70 L139.46 -0.95 L141.69 -0.95 L143.17 -1.70 L144.65 -3.21" fill="none" stroke="#000" stroke-width="1.9" stroke-linecap="square" stroke-linejoin="round" transform="translate(91.2,387) rotate(-90)"/>
<path d="M314.16 583.06 L313.60 581.96 L312.49 580.85 L311.37 580.30 L309.14 580.30 L308.03 580.85 L306.91 581.96 L306.36 583.06 L305.80 584.72 L305.80 587.48 L306.36 589.14 L306.91 590.24 L308.03 591.35 L309.14 591.90 L311.37 591.90 L312.49 591.35 L313.60 590.24 L314.16 589.14 M320.85 580.30 L319.74 580.85 L318.62 581.96 L318.06 583.06 L317.51 584.72 L317.51 587.48 L318.06 589.14 L318.62 590.24 L319.74 591.35 L320.85 591.90 L323.08 591.90 L324.20 591.35 L325.31 590.24 L325.87 589.14 L326.43 587.48 L326.43 584.72 L325.87 583.06 L325.31 581.96 L324.20 580.85 L323.08 580.30 L320.85 580.30 M330.33 580.30 L330.33 591.90 M330.33 580.30 L338.13 591.90 M338.13 580.30 L338.13 591.90 M344.82 580.30 L344.82 591.90 M340.92 580.30 L348.73 580.30 M354.30 580.30 L353.19 580.85 L352.07 581.96 L351.51 583.06 L350.96 584.72 L350.96 587.48 L351.51 589.14 L352.07 590.24 L353.19 591.35 L354.30 591.90 L356.53 591.90 L357.64 591.35 L358.76 590.24 L359.32 589.14 L359.87 587.48 L359.87 584.72 L359.32 583.06 L358.76 581.96 L357.64 580.85 L356.53 580.30 L354.30 580.30 M363.78 580.30 L363.78 588.59 L364.33 590.24 L365.45 591.35 L367.12 591.90 L368.24 591.90 L369.91 591.35 L371.02 590.24 L371.58 588.59 L371.58 580.30 M376.04 580.30 L376.04 591.90 M376.04 580.30 L381.06 580.30 L382.73 580.85 L383.29 581.40 L383.85 582.51 L383.85 583.61 L383.29 584.72 L382.73 585.27 L381.06 585.82 L376.04 585.82 M379.94 585.82 L383.85 591.90 M396.67 580.30 L396.67 591.90 M401.13 580.30 L401.13 591.90 M401.13 580.30 L408.93 591.90 M408.93 580.30 L408.93 591.90 M415.62 580.30 L415.62 591.90 M411.72 580.30 L419.52 580.30 M422.31 580.30 L422.31 591.90 M422.31 580.30 L429.56 580.30 M422.31 585.82 L426.77 585.82 M422.31 591.90 L429.56 591.90 M432.90 580.30 L432.90 591.90 M432.90 580.30 L437.92 580.30 L439.59 580.85 L440.15 581.40 L440.71 582.51 L440.71 583.61 L440.15 584.72 L439.59 585.27 L437.92 585.82 L432.90 585.82 M436.81 585.82 L440.71 591.90 M442.94 580.30 L447.40 591.90 M451.86 580.30 L447.40 591.90 M457.43 580.30 L452.97 591.90 M457.43 580.30 L461.89 591.90 M454.64 588.03 L460.22 588.03 M464.68 580.30 L464.68 591.90 M464.68 591.90 L471.37 591.90 M483.08 585.27 L493.11 585.27 M483.08 588.59 L493.11 588.59 M506.49 583.06 L506.49 582.51 L507.05 581.40 L507.60 580.85 L508.72 580.30 L510.95 580.30 L512.06 580.85 L512.62 581.40 L513.18 582.51 L513.18 583.61 L512.62 584.72 L511.51 586.38 L505.93 591.90 L513.74 591.90 M518.20 590.80 L517.64 591.35 L518.20 591.90 L518.75 591.35 L518.20 590.80 M526.00 580.30 L524.33 580.85 L523.21 582.51 L522.66 585.27 L522.66 586.93 L523.21 589.69 L524.33 591.35 L526.00 591.90 L527.12 591.90 L528.79 591.35 L529.90 589.69 L530.46 586.93 L530.46 585.27 L529.90 582.51 L528.79 580.85 L527.12 580.30 L526.00 580.30 M537.15 580.30 L535.48 580.85 L534.36 582.51 L533.81 585.27 L533.81 586.93 L534.36 589.69 L535.48 591.35 L537.15 591.90 L538.27 591.90 L539.94 591.35 L541.05 589.69 L541.61 586.93 L541.61 585.27 L541.05 582.51 L539.94 580.85 L538.27 580.30 L537.15 580.30 M548.30 580.30 L546.63 580.85 L545.51 582.51 L544.96 585.27 L544.96 586.93 L545.51 589.69 L546.63 591.35 L548.30 591.90 L549.41 591.90 L551.09 591.35 L552.20 589.69 L552.76 586.93 L552.76 585.27 L552.20 582.51 L551.09 580.85 L549.41 580.30 L548.30 580.30 M556.66 580.30 L556.66 591.90 M556.66 580.30 L563.91 580.30 M556.66 585.82 L561.12 585.82 M556.66 591.90 L563.91 591.90 M567.25 586.93 L577.29 586.93 M584.54 580.30 L582.86 580.85 L581.75 582.51 L581.19 585.27 L581.19 586.93 L581.75 589.69 L582.86 591.35 L584.54 591.90 L585.65 591.90 L587.32 591.35 L588.44 589.69 L589.00 586.93 L589.00 585.27 L588.44 582.51 L587.32 580.85 L585.65 580.30 L584.54 580.30 M594.01 582.51 L595.13 581.96 L596.80 580.30 L596.80 591.90" fill="none" stroke="#000" stroke-width="1.6" stroke-linecap="square" stroke-linejoin="round"/>
<path d="M185.69 482.67 L180.04 490.09 L188.52 490.09 M185.69 482.67 L185.69 493.80" fill="none" stroke="#000" stroke-width="2" stroke-linecap="square" stroke-linejoin="round"/>
<path d="M233.87 482.67 L232.17 483.20 L231.61 484.26 L231.61 485.32 L232.17 486.38 L233.31 486.91 L235.56 487.44 L237.26 487.97 L238.39 489.03 L238.95 490.09 L238.95 491.68 L238.39 492.74 L237.82 493.27 L236.13 493.80 L233.87 493.80 L232.17 493.27 L231.61 492.74 L231.04 491.68 L231.04 490.09 L231.61 489.03 L232.74 487.97 L234.44 487.44 L236.69 486.91 L237.82 486.38 L238.39 485.32 L238.39 484.26 L237.82 483.20 L236.13 482.67 L233.87 482.67" fill="none" stroke="#000" stroke-width="2" stroke-linecap="square" stroke-linejoin="round"/>
<path d="M278.09 484.79 L279.22 484.26 L280.91 482.67 L280.91 493.80 M288.26 485.32 L288.26 484.79 L288.82 483.73 L289.39 483.20 L290.52 482.67 L292.78 482.67 L293.91 483.20 L294.48 483.73 L295.04 484.79 L295.04 485.85 L294.48 486.91 L293.35 488.50 L287.69 493.80 L295.61 493.80" fill="none" stroke="#000" stroke-width="2" stroke-linecap="square" stroke-linejoin="round"/>
<path d="M329.09 484.79 L330.22 484.26 L331.91 482.67 L331.91 493.80 M346.04 484.26 L345.48 483.20 L343.78 482.67 L342.65 482.67 L340.95 483.20 L339.82 484.79 L339.26 487.44 L339.26 490.09 L339.82 492.21 L340.95 493.27 L342.65 493.80 L343.21 493.80 L344.91 493.27 L346.04 492.21 L346.61 490.62 L346.61 490.09 L346.04 488.50 L344.91 487.44 L343.21 486.91 L342.65 486.91 L340.95 487.44 L339.82 488.50 L339.26 490.09" fill="none" stroke="#000" stroke-width="2" stroke-linecap="square" stroke-linejoin="round"/>
<path d="M378.96 485.32 L378.96 484.79 L379.52 483.73 L380.09 483.20 L381.22 482.67 L383.48 482.67 L384.61 483.20 L385.18 483.73 L385.74 484.79 L385.74 485.85 L385.18 486.91 L384.04 488.50 L378.39 493.80 L386.31 493.80 M393.08 482.67 L391.39 483.20 L390.26 484.79 L389.69 487.44 L389.69 489.03 L390.26 491.68 L391.39 493.27 L393.08 493.80 L394.21 493.80 L395.91 493.27 L397.04 491.68 L397.61 489.03 L397.61 487.44 L397.04 484.79 L395.91 483.20 L394.21 482.67 L393.08 482.67" fill="none" stroke="#000" stroke-width="2" stroke-linecap="square" stroke-linejoin="round"/>
<path d="M429.96 485.32 L429.96 484.79 L430.52 483.73 L431.09 483.20 L432.22 482.67 L434.48 482.67 L435.61 483.20 L436.18 483.73 L436.74 484.79 L436.74 485.85 L436.18 486.91 L435.04 488.50 L429.39 493.80 L437.31 493.80 M446.35 482.67 L440.69 490.09 L449.17 490.09 M446.35 482.67 L446.35 493.80" fill="none" stroke="#000" stroke-width="2" stroke-linecap="square" stroke-linejoin="round"/>
<path d="M480.96 485.32 L480.96 484.79 L481.52 483.73 L482.09 483.20 L483.22 482.67 L485.48 482.67 L486.61 483.20 L487.18 483.73 L487.74 484.79 L487.74 485.85 L487.18 486.91 L486.04 488.50 L480.39 493.80 L488.31 493.80 M494.52 482.67 L492.82 483.20 L492.26 484.26 L492.26 485.32 L492.82 486.38 L493.95 486.91 L496.21 487.44 L497.91 487.97 L499.04 489.03 L499.61 490.09 L499.61 491.68 L499.04 492.74 L498.48 493.27 L496.78 493.80 L494.52 493.80 L492.82 493.27 L492.26 492.74 L491.69 491.68 L491.69 490.09 L492.26 489.03 L493.39 487.97 L495.08 487.44 L497.35 486.91 L498.48 486.38 L499.04 485.32 L499.04 484.26 L498.48 483.20 L496.78 482.67 L494.52 482.67" fill="none" stroke="#000" stroke-width="2" stroke-linecap="square" stroke-linejoin="round"/>
<path d="M532.53 482.67 L538.74 482.67 L535.35 486.91 L537.05 486.91 L538.18 487.44 L538.74 487.97 L539.31 489.56 L539.31 490.62 L538.74 492.21 L537.61 493.27 L535.92 493.80 L534.22 493.80 L532.53 493.27 L531.96 492.74 L531.40 491.68 M543.26 485.32 L543.26 484.79 L543.83 483.73 L544.39 483.20 L545.52 482.67 L547.78 482.67 L548.91 483.20 L549.48 483.73 L550.04 484.79 L550.04 485.85 L549.48 486.91 L548.35 488.50 L542.70 493.80 L550.61 493.80" fill="none" stroke="#000" stroke-width="2" stroke-linecap="square" stroke-linejoin="round"/>
<path d="M583.53 482.67 L589.74 482.67 L586.35 486.91 L588.05 486.91 L589.18 487.44 L589.74 487.97 L590.31 489.56 L590.31 490.62 L589.74 492.21 L588.61 493.27 L586.92 493.80 L585.22 493.80 L583.53 493.27 L582.96 492.74 L582.40 491.68 M601.04 484.26 L600.48 483.20 L598.78 482.67 L597.65 482.67 L595.96 483.20 L594.83 484.79 L594.26 487.44 L594.26 490.09 L594.83 492.21 L595.96 493.27 L597.65 493.80 L598.22 493.80 L599.91 493.27 L601.04 492.21 L601.61 490.62 L601.61 490.09 L601.04 488.50 L599.91 487.44 L598.22 486.91 L597.65 486.91 L595.96 487.44 L594.83 488.50 L594.26 490.09" fill="none" stroke="#000" stroke-width="2" stroke-linecap="square" stroke-linejoin="round"/>
<path d="M639.05 482.67 L633.40 490.09 L641.87 490.09 M639.05 482.67 L639.05 493.80 M648.09 482.67 L646.39 483.20 L645.26 484.79 L644.70 487.44 L644.70 489.03 L645.26 491.68 L646.39 493.27 L648.09 493.80 L649.22 493.80 L650.91 493.27 L652.04 491.68 L652.61 489.03 L652.61 487.44 L652.04 484.79 L650.91 483.20 L649.22 482.67 L648.09 482.67" fill="none" stroke="#000" stroke-width="2" stroke-linecap="square" stroke-linejoin="round"/>
<path d="M690.05 482.67 L684.40 490.09 L692.87 490.09 M690.05 482.67 L690.05 493.80 M701.35 482.67 L695.70 490.09 L704.17 490.09 M701.35 482.67 L701.35 493.80" fill="none" stroke="#000" stroke-width="2" stroke-linecap="square" stroke-linejoin="round"/>
<path d="M741.05 482.67 L735.40 490.09 L743.87 490.09 M741.05 482.67 L741.05 493.80 M749.52 482.67 L747.83 483.20 L747.26 484.26 L747.26 485.32 L747.83 486.38 L748.96 486.91 L751.22 487.44 L752.91 487.97 L754.04 489.03 L754.61 490.09 L754.61 491.68 L754.04 492.74 L753.48 493.27 L751.78 493.80 L749.52 493.80 L747.83 493.27 L747.26 492.74 L746.70 491.68 L746.70 490.09 L747.26 489.03 L748.39 487.97 L750.09 487.44 L752.35 486.91 L753.48 486.38 L754.04 485.32 L754.04 484.26 L753.48 483.20 L751.78 482.67 L749.52 482.67" fill="none" stroke="#000" stroke-width="2" stroke-linecap="square" stroke-linejoin="round"/>
<path d="M123.93 389.49 L118.09 389.49 L117.51 394.42 L118.09 393.88 L119.84 393.33 L121.60 393.33 L123.35 393.88 L124.52 394.97 L125.10 396.62 L125.10 397.71 L124.52 399.36 L123.35 400.45 L121.60 401.00 L119.84 401.00 L118.09 400.45 L117.51 399.90 L116.92 398.81" fill="none" stroke="#000" stroke-width="2" stroke-linecap="square" stroke-linejoin="round"/>
<path d="M107.00 310.68 L108.16 310.14 L109.92 308.49 L109.92 320.00 M120.43 308.49 L118.68 309.04 L117.51 310.68 L116.92 313.42 L116.92 315.07 L117.51 317.81 L118.68 319.45 L120.43 320.00 L121.60 320.00 L123.35 319.45 L124.52 317.81 L125.10 315.07 L125.10 313.42 L124.52 310.68 L123.35 309.04 L121.60 308.49 L120.43 308.49" fill="none" stroke="#000" stroke-width="2" stroke-linecap="square" stroke-linejoin="round"/>
<path d="M107.00 229.68 L108.16 229.14 L109.92 227.49 L109.92 239.00 M123.93 227.49 L118.09 227.49 L117.51 232.42 L118.09 231.88 L119.84 231.33 L121.60 231.33 L123.35 231.88 L124.52 232.97 L125.10 234.62 L125.10 235.71 L124.52 237.36 L123.35 238.45 L121.60 239.00 L119.84 239.00 L118.09 238.45 L117.51 237.90 L116.92 236.81" fill="none" stroke="#000" stroke-width="2" stroke-linecap="square" stroke-linejoin="round"/>
<path d="M813.40 265.85 L814.40 265.39 L815.91 264.00 L815.91 273.70 M822.93 272.78 L822.43 273.24 L822.93 273.70 L823.43 273.24 L822.93 272.78 M829.95 264.00 L828.45 264.46 L827.45 265.85 L826.94 268.16 L826.94 269.54 L827.45 271.85 L828.45 273.24 L829.95 273.70 L830.96 273.70 L832.46 273.24 L833.47 271.85 L833.97 269.54 L833.97 268.16 L833.47 265.85 L832.46 264.46 L830.96 264.00 L829.95 264.00 M839.49 264.00 L837.98 264.46 L837.48 265.39 L837.48 266.31 L837.98 267.23 L838.98 267.70 L840.99 268.16 L842.50 268.62 L843.50 269.54 L844.00 270.47 L844.00 271.85 L843.50 272.78 L843.00 273.24 L841.49 273.70 L839.49 273.70 L837.98 273.24 L837.48 272.78 L836.98 271.85 L836.98 270.47 L837.48 269.54 L838.48 268.62 L839.99 268.16 L841.99 267.70 L843.00 267.23 L843.50 266.31 L843.50 265.39 L843.00 264.46 L841.49 264.00 L839.49 264.00" fill="none" stroke="#000" stroke-width="2" stroke-linecap="square" stroke-linejoin="round"/>
<path d="M813.40 311.05 L814.39 310.59 L815.87 309.20 L815.87 318.90 M822.78 317.98 L822.28 318.44 L822.78 318.90 L823.27 318.44 L822.78 317.98 M829.69 309.20 L828.21 309.66 L827.22 311.05 L826.73 313.36 L826.73 314.74 L827.22 317.05 L828.21 318.44 L829.69 318.90 L830.67 318.90 L832.15 318.44 L833.14 317.05 L833.64 314.74 L833.64 313.36 L833.14 311.05 L832.15 309.66 L830.67 309.20 L829.69 309.20 M841.53 309.20 L836.60 315.67 L844.00 315.67 M841.53 309.20 L841.53 318.90" fill="none" stroke="#000" stroke-width="2" stroke-linecap="square" stroke-linejoin="round"/>
<path d="M813.40 356.26 L814.41 355.79 L815.92 354.39 L815.92 364.20" fill="none" stroke="#000" stroke-width="2" stroke-linecap="square" stroke-linejoin="round"/>
<path d="M815.18 399.60 L813.69 400.06 L812.70 401.45 L812.20 403.76 L812.20 405.14 L812.70 407.45 L813.69 408.84 L815.18 409.30 L816.18 409.30 L817.67 408.84 L818.66 407.45 L819.16 405.14 L819.16 403.76 L818.66 401.45 L817.67 400.06 L816.18 399.60 L815.18 399.60 M823.13 408.38 L822.63 408.84 L823.13 409.30 L823.63 408.84 L823.13 408.38 M833.57 402.83 L833.07 404.22 L832.08 405.14 L830.58 405.60 L830.09 405.60 L828.60 405.14 L827.60 404.22 L827.11 402.83 L827.11 402.37 L827.60 400.99 L828.60 400.06 L830.09 399.60 L830.58 399.60 L832.08 400.06 L833.07 400.99 L833.57 402.83 L833.57 405.14 L833.07 407.45 L832.08 408.84 L830.58 409.30 L829.59 409.30 L828.10 408.84 L827.60 407.91 M843.50 400.99 L843.01 400.06 L841.52 399.60 L840.52 399.60 L839.03 400.06 L838.04 401.45 L837.54 403.76 L837.54 406.07 L838.04 407.91 L839.03 408.84 L840.52 409.30 L841.02 409.30 L842.51 408.84 L843.50 407.91 L844.00 406.53 L844.00 406.07 L843.50 404.68 L842.51 403.76 L841.02 403.30 L840.52 403.30 L839.03 403.76 L838.04 404.68 L837.54 406.07" fill="none" stroke="#000" stroke-width="2" stroke-linecap="square" stroke-linejoin="round"/>
<path d="M815.18 444.80 L813.69 445.26 L812.70 446.65 L812.20 448.96 L812.20 450.34 L812.70 452.65 L813.69 454.04 L815.18 454.50 L816.18 454.50 L817.67 454.04 L818.66 452.65 L819.16 450.34 L819.16 448.96 L818.66 446.65 L817.67 445.26 L816.18 444.80 L815.18 444.80 M823.13 453.58 L822.63 454.04 L823.13 454.50 L823.63 454.04 L823.13 453.58 M833.57 448.03 L833.07 449.42 L832.08 450.34 L830.58 450.80 L830.09 450.80 L828.60 450.34 L827.60 449.42 L827.11 448.03 L827.11 447.57 L827.60 446.19 L828.60 445.26 L830.09 444.80 L830.58 444.80 L832.08 445.26 L833.07 446.19 L833.57 448.03 L833.57 450.34 L833.07 452.65 L832.08 454.04 L830.58 454.50 L829.59 454.50 L828.10 454.04 L827.60 453.11 M837.54 447.11 L837.54 446.65 L838.04 445.72 L838.53 445.26 L839.53 444.80 L841.52 444.80 L842.51 445.26 L843.01 445.72 L843.50 446.65 L843.50 447.57 L843.01 448.50 L842.01 449.88 L837.04 454.50 L844.00 454.50" fill="none" stroke="#000" stroke-width="2" stroke-linecap="square" stroke-linejoin="round"/>
<path d="M343.01 384.80 L341.38 385.33 L340.29 386.93 L339.75 389.60 L339.75 391.20 L340.29 393.87 L341.38 395.47 L343.01 396.00 L344.09 396.00 L345.72 395.47 L346.81 393.87 L347.35 391.20 L347.35 389.60 L346.81 386.93 L345.72 385.33 L344.09 384.80 L343.01 384.80 M351.70 394.93 L351.15 395.47 L351.70 396.00 L352.24 395.47 L351.70 394.93 M361.47 384.80 L356.04 392.27 L364.18 392.27 M361.47 384.80 L361.47 396.00 M370.16 384.80 L368.53 385.33 L367.44 386.93 L366.90 389.60 L366.90 391.20 L367.44 393.87 L368.53 395.47 L370.16 396.00 L371.24 396.00 L372.87 395.47 L373.96 393.87 L374.50 391.20 L374.50 389.60 L373.96 386.93 L372.87 385.33 L371.24 384.80 L370.16 384.80" fill="none" stroke="#000" stroke-width="2" stroke-linecap="square" stroke-linejoin="round"/>
<path d="M533.91 367.90 L532.25 368.45 L531.15 370.09 L530.60 372.83 L530.60 374.47 L531.15 377.21 L532.25 378.85 L533.91 379.40 L535.01 379.40 L536.67 378.85 L537.77 377.21 L538.32 374.47 L538.32 372.83 L537.77 370.09 L536.67 368.45 L535.01 367.90 L533.91 367.90 M542.73 378.30 L542.18 378.85 L542.73 379.40 L543.29 378.85 L542.73 378.30 M549.90 367.90 L548.25 368.45 L547.70 369.54 L547.70 370.64 L548.25 371.73 L549.35 372.28 L551.56 372.83 L553.21 373.38 L554.32 374.47 L554.87 375.57 L554.87 377.21 L554.32 378.30 L553.77 378.85 L552.11 379.40 L549.90 379.40 L548.25 378.85 L547.70 378.30 L547.15 377.21 L547.15 375.57 L547.70 374.47 L548.80 373.38 L550.46 372.83 L552.66 372.28 L553.77 371.73 L554.32 370.64 L554.32 369.54 L553.77 368.45 L552.11 367.90 L549.90 367.90 M561.49 367.90 L559.83 368.45 L558.73 370.09 L558.18 372.83 L558.18 374.47 L558.73 377.21 L559.83 378.85 L561.49 379.40 L562.59 379.40 L564.25 378.85 L565.35 377.21 L565.90 374.47 L565.90 372.83 L565.35 370.09 L564.25 368.45 L562.59 367.90 L561.49 367.90" fill="none" stroke="#000" stroke-width="2" stroke-linecap="square" stroke-linejoin="round"/></g>
</svg>
</body></html>
